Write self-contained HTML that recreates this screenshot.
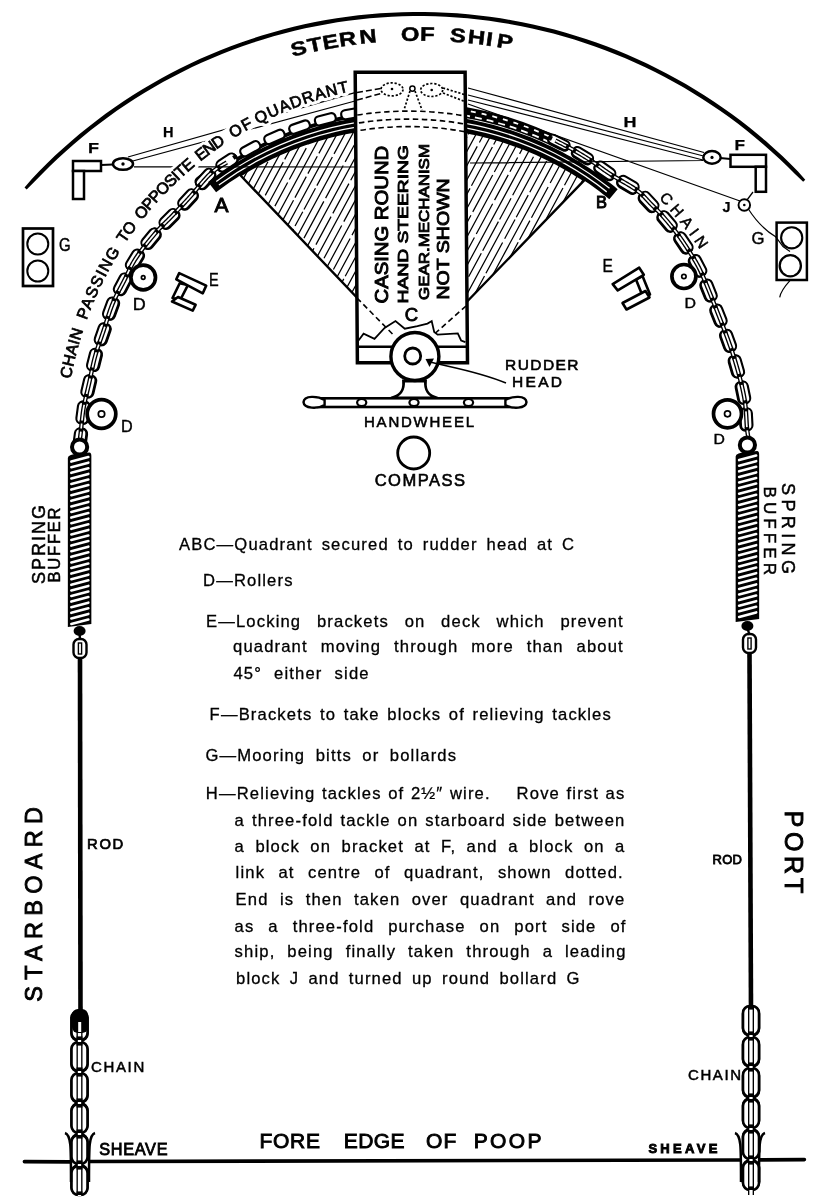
<!DOCTYPE html>
<html><head><meta charset="utf-8"><style>html,body{margin:0;padding:0;background:#fff;}svg{display:block;filter:grayscale(1);}</style></head>
<body><svg width="832" height="1200" viewBox="0 0 832 1200"><defs>
<pattern id="hatch" patternUnits="userSpaceOnUse" width="13.6" height="40" patternTransform="rotate(28.4)">
<line x1="1" y1="0" x2="1" y2="40" stroke="#000" stroke-width="1.3"/><line x1="7.8" y1="0" x2="7.8" y2="40" stroke="#000" stroke-width="1.3" stroke-dasharray="16,4"/></pattern>
<clipPath id="boxclip"><rect x="357" y="74" width="109" height="287"/></clipPath>
</defs><rect width="832" height="1200" fill="#fff"/><path d="M24.52,187.57 L31.59,179.16 L39.13,171.18 L46.9,163.43 L54.82,155.83 L62.91,148.41 L71.14,141.15 L79.52,134.06 L88.05,127.15 L96.72,120.41 L105.52,113.86 L114.46,107.49 L123.53,101.3 L132.73,95.3 L142.04,89.5 L151.48,83.89 L161.03,78.47 L170.68,73.25 L180.45,68.24 L190.31,63.42 L200.27,58.81 L210.33,54.41 L220.47,50.21 L230.7,46.23 L241.01,42.46 L251.4,38.9 L261.85,35.56 L272.37,32.43 L282.96,29.52 L293.6,26.83 L304.3,24.36 L315.04,22.12 L325.83,20.09 L336.66,18.29 L347.52,16.71 L358.42,15.36 L369.34,14.23 L380.28,13.33 L391.23,12.65 L402.2,12.2 L413.18,11.98 L424.15,11.98 L435.13,12.21 L446.1,12.67 L457.05,13.35 L467.99,14.26 L478.91,15.39 L489.8,16.75 L500.66,18.34 L511.49,20.15 L522.28,22.18 L533.02,24.43 L543.72,26.91 L554.36,29.61 L564.94,32.52 L575.46,35.65 L585.92,39 L596.3,42.57 L606.6,46.35 L616.83,50.34 L626.97,54.54 L637.03,58.95 L646.98,63.56 L656.85,68.38 L666.61,73.41 L676.26,78.63 L685.81,84.05 L695.24,89.67 L704.55,95.48 L713.74,101.48 L722.81,107.68 L731.74,114.05 L740.54,120.61 L749.21,127.35 L757.73,134.27 L766.11,141.36 L774.34,148.63 L782.42,156.06 L790.34,163.66 L798.03,171.49 L805.27,179.75 L803.16,181.73 L795.25,174.22 L787.47,166.59 L779.61,159.05 L771.59,151.67 L763.43,144.46 L755.11,137.43 L746.66,130.56 L738.06,123.87 L729.32,117.36 L720.46,111.04 L711.46,104.89 L702.34,98.94 L693.1,93.17 L683.75,87.6 L674.27,82.22 L664.69,77.03 L655.01,72.05 L645.22,67.26 L635.34,62.68 L625.36,58.31 L615.3,54.14 L605.15,50.18 L594.93,46.43 L584.62,42.89 L574.25,39.57 L563.81,36.46 L553.31,33.57 L542.75,30.89 L532.14,28.44 L521.48,26.2 L510.77,24.18 L500.03,22.39 L489.25,20.82 L478.44,19.47 L467.61,18.34 L456.75,17.44 L445.88,16.76 L435,16.31 L424.11,16.08 L413.22,16.08 L402.33,16.3 L391.44,16.74 L380.57,17.42 L369.72,18.31 L358.88,19.43 L348.07,20.77 L337.29,22.34 L326.55,24.13 L315.84,26.14 L305.18,28.37 L294.57,30.82 L284,33.49 L273.5,36.37 L263.06,39.47 L252.69,42.79 L242.38,46.32 L232.15,50.07 L222,54.02 L211.94,58.18 L201.96,62.55 L192.07,67.12 L182.28,71.9 L172.59,76.88 L163.01,82.06 L153.54,87.43 L144.18,93 L134.93,98.76 L125.81,104.71 L116.81,110.85 L107.94,117.17 L99.2,123.68 L90.6,130.36 L82.14,137.22 L73.82,144.25 L65.65,151.45 L57.63,158.82 L49.76,166.36 L42.05,174.05 L34.43,181.84 L26.67,189.51 Z" fill="#000"/>
<text font-family="Liberation Sans, sans-serif" font-size="19.5" font-weight="bold" stroke="#000" stroke-width="0.5" text-anchor="middle" transform="translate(300.1,54.84) rotate(-13.62) scale(1.22,1)">S</text>
<text font-family="Liberation Sans, sans-serif" font-size="19.5" font-weight="bold" stroke="#000" stroke-width="0.5" text-anchor="middle" transform="translate(316.1,51.24) rotate(-11.75) scale(1.22,1)">T</text>
<text font-family="Liberation Sans, sans-serif" font-size="19.5" font-weight="bold" stroke="#000" stroke-width="0.5" text-anchor="middle" transform="translate(331.6,48.27) rotate(-9.95) scale(1.22,1)">E</text>
<text font-family="Liberation Sans, sans-serif" font-size="19.5" font-weight="bold" stroke="#000" stroke-width="0.5" text-anchor="middle" transform="translate(348.5,45.6) rotate(-8) scale(1.22,1)">R</text>
<text font-family="Liberation Sans, sans-serif" font-size="19.5" font-weight="bold" stroke="#000" stroke-width="0.5" text-anchor="middle" transform="translate(368.6,43.18) rotate(-5.7) scale(1.22,1)">N</text>
<text font-family="Liberation Sans, sans-serif" font-size="19.5" font-weight="bold" stroke="#000" stroke-width="0.5" text-anchor="middle" transform="translate(410.3,40.77) rotate(-0.93) scale(1.22,1)">O</text>
<text font-family="Liberation Sans, sans-serif" font-size="19.5" font-weight="bold" stroke="#000" stroke-width="0.5" text-anchor="middle" transform="translate(427.2,40.78) rotate(0.99) scale(1.22,1)">F</text>
<text font-family="Liberation Sans, sans-serif" font-size="19.5" font-weight="bold" stroke="#000" stroke-width="0.5" text-anchor="middle" transform="translate(457.3,42.2) rotate(4.43) scale(1.22,1)">S</text>
<text font-family="Liberation Sans, sans-serif" font-size="19.5" font-weight="bold" stroke="#000" stroke-width="0.5" text-anchor="middle" transform="translate(475.9,43.99) rotate(6.56) scale(1.22,1)">H</text>
<text font-family="Liberation Sans, sans-serif" font-size="19.5" font-weight="bold" stroke="#000" stroke-width="0.5" text-anchor="middle" transform="translate(488.6,45.61) rotate(8.01) scale(1.22,1)">I</text>
<text font-family="Liberation Sans, sans-serif" font-size="19.5" font-weight="bold" stroke="#000" stroke-width="0.5" text-anchor="middle" transform="translate(503.9,48.01) rotate(9.78) scale(1.22,1)">P</text>
<clipPath id="wedgeclip"><path d="M413.5,357.0 L240.41,175.28 L244.28,172.88 L248.18,170.54 L252.11,168.26 L256.07,166.04 L260.07,163.87 L264.09,161.76 L268.15,159.71 L272.23,157.72 L276.35,155.79 L280.49,153.91 L284.65,152.1 L288.85,150.34 L293.07,148.65 L297.31,147.02 L301.57,145.45 L305.86,143.94 L310.17,142.49 L314.5,141.11 L318.85,139.79 L323.21,138.53 L327.6,137.33 L332,136.2 L336.42,135.13 L340.85,134.12 L345.3,133.18 L349.76,132.3 L354.23,131.49 L358.71,130.74 L363.2,130.06 L367.71,129.44 L372.22,128.88 L376.74,128.39 L381.26,127.97 L385.79,127.61 L390.33,127.32 L394.87,127.09 L399.41,126.93 L403.95,126.83 L408.5,126.8 L413.04,126.83 L417.59,126.93 L422.13,127.1 L426.67,127.33 L431.2,127.63 L435.74,127.99 L440.26,128.41 L444.78,128.91 L449.29,129.46 L453.79,130.08 L458.29,130.77 L462.77,131.52 L467.24,132.34 L471.7,133.22 L476.14,134.16 L480.58,135.17 L484.99,136.24 L489.39,137.38 L493.78,138.58 L498.14,139.84 L502.49,141.17 L506.82,142.55 L511.13,144 L515.41,145.52 L519.68,147.09 L523.92,148.72 L528.14,150.42 L532.33,152.18 L536.49,153.99 L540.63,155.87 L544.75,157.8 L548.83,159.8 L552.88,161.85 L556.91,163.96 L560.9,166.13 L564.87,168.36 L568.79,170.65 L572.69,172.99 L576.55,175.38 L580.38,177.83 L584.17,180.34 Z"/></clipPath>
<g clip-path="url(#wedgeclip)"><path d="M-16.74,187.89 L125.95,-76 M-10.76,191.13 L1,169.39 M2.33,166.92 L18.75,136.55 M20.01,134.22 L34.79,106.89 M36.33,104.04 L44.29,89.32 M45.96,86.23 L53.63,72.04 M55.23,69.08 L63.36,54.04 M64.64,51.68 L77.83,27.29 M79.81,23.63 L88.71,7.17 M90.11,4.58 L106.19,-25.17 M108.29,-29.04 L123.65,-57.46 M125.22,-60.36 L146.28,-99.32 M-4.78,194.36 L137.91,-69.53 M1.2,197.6 L20.59,161.75 M22.05,159.04 L31.25,142.04 M32.55,139.63 L44.08,118.29 M46.05,114.66 L55.76,96.7 M57.5,93.47 L73.75,63.42 M75.3,60.56 L90.25,32.91 M91.5,30.6 L99.48,15.84 M100.87,13.28 L117.71,-17.87 M119.3,-20.83 L130.92,-42.31 M132.67,-45.54 L146.27,-70.69 M7.19,200.83 L149.87,-63.06 M13.17,204.06 L31.64,169.91 M33.49,166.48 L44.11,146.84 M45.84,143.63 L60.47,116.58 M62.49,112.84 L80.04,80.39 M81.5,77.69 L102.62,38.63 M103.92,36.22 L117.02,11.99 M118.93,8.46 L128.23,-8.75 M129.89,-11.8 L137.58,-26.03 M139.41,-29.41 L157.45,-62.78 M19.15,207.3 L161.84,-56.6 M25.13,210.53 L44.76,174.23 M46.24,171.48 L63.3,139.94 M65.05,136.7 L80.46,108.2 M82.09,105.2 L101.21,69.83 M103.29,65.97 L117.19,40.27 M119.01,36.9 L127.01,22.1 M128.87,18.67 L145.24,-11.6 M147.37,-15.55 L166.23,-50.43 M167.69,-53.13 L180.33,-76.51 M31.11,213.77 L173.8,-50.13 M37.09,217 L44.55,203.21 M46.18,200.2 L55.71,182.57 M57.01,180.16 L64.99,165.41 M66.91,161.86 L75.89,145.26 M77.31,142.62 L90.02,119.11 M92.04,115.38 L100.33,100.06 M101.94,97.07 L116.92,69.37 M118.95,65.62 L137.77,30.8 M139.78,27.08 L150.89,6.54 M152.47,3.61 L164.73,-19.05 M166.76,-22.8 L187.56,-61.27 M43.08,220.24 L185.76,-43.66 M49.06,223.47 L58.71,205.62 M60.12,203.02 L70.58,183.66 M72.23,180.61 L87.77,151.87 M89.21,149.21 L96.4,135.91 M97.99,132.97 L110.39,110.03 M112.12,106.84 L132.85,68.49 M134.7,65.08 L149.19,38.28 M150.97,34.99 L167.75,3.95 M168.99,1.66 L188.96,-35.27 M190.89,-38.85 L210.5,-75.12 M55.04,226.7 L197.73,-37.19 M61.02,229.94 L73.75,206.39 M75.32,203.49 L83.93,187.56 M85.73,184.25 L93.75,169.41 M95,167.09 L105.12,148.39 M106.46,145.9 L118.45,123.73 M119.68,121.44 L126.82,108.24 M128.16,105.78 L136.74,89.9 M138.27,87.06 L145.77,73.2 M147.79,69.46 L163.69,40.06 M165.02,37.6 L175.75,17.75 M177.27,14.94 L189.6,-7.87 M190.91,-10.28 L210.16,-45.88 M67,233.17 L209.69,-30.72 M72.98,236.41 L86.77,210.91 M88.42,207.86 L96.78,192.4 M98.06,190.02 L110.09,167.79 M111.53,165.12 L130.49,130.05 M131.83,127.57 L139.29,113.77 M141.39,109.9 L156.06,82.76 M157.39,80.3 L172.27,52.77 M173.49,50.53 L188.16,23.4 M190.28,19.48 L209.73,-16.5 M211.58,-19.93 L222.44,-40.01 M78.97,239.64 L221.65,-24.25 M84.95,242.87 L94.46,225.27 M96.39,221.71 L111.12,194.47 M113.05,190.9 L124.89,169 M126.29,166.41 L145.01,131.8 M147.13,127.87 L166.43,92.17 M168.39,88.56 L187.2,53.77 M189.09,50.26 L199.46,31.09 M201.14,27.98 L213.35,5.4 M214.57,3.15 L222.1,-10.78 M223.55,-13.47 L234.39,-33.51 M90.93,246.11 L233.62,-17.79 M96.91,249.34 L117.69,210.91 M119.31,207.92 L139.81,170 M141.94,166.06 L162.7,127.66 M164.24,124.82 L174.52,105.81 M175.92,103.21 L185.86,84.83 M187.25,82.27 L203.29,52.61 M205.33,48.82 L224.46,13.45 M226.1,10.41 L242.55,-20.02 M102.89,252.58 L245.58,-11.32 M108.87,255.81 L117.22,240.38 M119.04,237.02 L139.15,199.82 M141.08,196.24 L158.92,163.25 M160.57,160.21 L170.25,142.3 M172.19,138.72 L184.07,116.75 M186.02,113.14 L207.02,74.3 M208.58,71.41 L221.44,47.62 M223.53,43.75 L241.01,11.43 M242.36,8.93 L251.31,-7.61 M114.86,259.05 L257.54,-4.85 M120.84,262.28 L140.88,225.21 M142.84,221.59 L152.06,204.54 M154.03,200.88 L175.16,161.82 M176.97,158.46 L189.1,136.02 M190.82,132.86 L199.82,116.21 M201.02,113.98 L222.01,75.17 M223.82,71.82 L238.46,44.73 M240.54,40.89 L253.87,16.25 M255.88,12.52 L274.81,-22.48 M126.82,265.51 L269.51,1.62 M132.8,268.75 L143.53,248.91 M145,246.19 L155.56,226.65 M157.31,223.42 L168.14,203.38 M169.73,200.44 L178.74,183.79 M180.79,179.99 L192.97,157.46 M194.6,154.46 L210.06,125.87 M212.11,122.08 L225.24,97.78 M227.3,93.97 L241.6,67.53 M243.29,64.4 L257.9,37.39 M259.1,35.16 L272.52,10.35 M273.88,7.83 L281.07,-5.47 M138.78,271.98 L281.47,8.09 M144.76,275.22 L154.36,257.47 M156,254.44 L173.48,222.11 M175.2,218.93 L186.98,197.13 M188.66,194.02 L203.72,166.17 M205.66,162.59 L214.31,146.6 M216.03,143.41 L226.71,123.66 M228.16,120.97 L246.32,87.4 M247.99,84.31 L263.14,56.29 M265.05,52.75 L285.2,15.48 M286.81,12.5 L302.69,-16.86 M150.74,278.45 L293.43,14.56 M156.73,281.69 L171.17,254.98 M173.02,251.56 L186.61,226.43 M188.3,223.29 L202.26,197.48 M204.34,193.62 L221.45,161.98 M223.48,158.23 L244.05,120.18 M245.49,117.52 L260.61,89.56 M262.69,85.7 L281.81,50.34 M283.13,47.9 L292,31.5 M293.61,28.52 L301.78,13.41 M162.71,284.92 L305.4,21.03 M168.69,288.15 L176.87,273.03 M178.69,269.65 L197.01,235.77 M199.06,231.99 L208.39,214.72 M210.26,211.26 L226.82,180.65 M228.14,178.19 L247.88,141.7 M249.99,137.8 L260.25,118.81 M262.35,114.94 L275.17,91.23 M276.82,88.18 L298.08,48.86 M300.06,45.2 L309.5,27.74 M311.09,24.78 L325.59,-2.02 M174.67,291.39 L317.36,27.49 M180.65,294.62 L190.58,276.26 M192.07,273.5 L209.51,241.25 M210.72,239.02 L225.76,211.2 M227.37,208.23 L234.76,194.56 M236.26,191.77 L252.3,162.11 M253.98,159.01 L262.03,144.12 M264.15,140.19 L282.54,106.19 M284.65,102.28 L293.28,86.32 M294.72,83.66 L302.42,69.42 M304.35,65.85 L315.34,45.52 M316.66,43.09 L329.82,18.75 M186.63,297.86 L329.32,33.96 M192.62,301.09 L211.44,266.28 M212.87,263.63 L222.14,246.49 M224.2,242.68 L239.48,214.42 M241.33,210.99 L249.74,195.44 M250.99,193.14 L267.94,161.78 M269.53,158.83 L277.7,143.73 M279.78,139.88 L295.97,109.94 M297.92,106.33 L306.25,90.93 M308.25,87.22 L316.34,72.27 M318.35,68.55 L331.96,43.38 M333.47,40.59 L348.5,12.8 M198.6,304.33 L341.28,40.43 M204.58,307.56 L215.54,287.3 M216.85,284.87 L231.5,257.77 M232.92,255.15 L241.61,239.07 M242.96,236.59 L250.81,222.06 M252.19,219.51 L263.78,198.08 M265.25,195.34 L283.23,162.11 M284.69,159.4 L298.96,133 M300.32,130.49 L312.4,108.14 M313.61,105.91 L324.32,86.11 M325.52,83.88 L343.12,51.34 M344.83,48.17 L354.67,29.98 M210.56,310.79 L353.25,46.9 M216.54,314.03 L237.01,276.17 M238.3,273.78 L257.12,238.98 M258.72,236.02 L272.92,209.76 M274.9,206.09 L287.65,182.52 M289.32,179.43 L306.26,148.09 M308.39,144.16 L320.41,121.92 M322.39,118.26 L339.61,86.42 M341.41,83.1 L354.31,59.22 M355.83,56.41 L363.75,41.78 M222.52,317.26 L365.21,53.37 M228.51,320.5 L236.65,305.44 M238.54,301.93 L249.32,281.99 M250.67,279.51 L259.01,264.08 M261,260.4 L280.55,224.24 M282.38,220.86 L293.54,200.22 M294.96,197.6 L306.27,176.67 M307.9,173.66 L317.28,156.31 M318.89,153.33 L329.79,133.18 M331.89,129.29 L352.9,90.43 M354.61,87.27 L365.23,67.62 M367.34,63.73 L378.89,42.36 M234.49,323.73 L377.17,59.84 M240.47,326.97 L247.62,313.74 M249.17,310.87 L263.08,285.15 M264.74,282.07 L274.75,263.57 M276.42,260.48 L283.62,247.16 M285.06,244.49 L293.48,228.93 M295.05,226.03 L302.77,211.73 M303.99,209.49 L315.46,188.27 M316.87,185.66 L332.36,157.01 M334.05,153.88 L351.9,120.88 M353.71,117.53 L371.06,85.44 M373.09,81.69 L385.78,58.22 M246.45,330.2 L389.14,66.3 M252.43,333.43 L273.62,294.25 M274.95,291.79 L292.42,259.49 M294.22,256.15 L301.98,241.8 M303.96,238.14 L323.82,201.4 M325.61,198.1 L343.21,165.54 M345.17,161.91 L354.3,145.04 M355.98,141.92 L370.31,115.42 M372.3,111.75 L390.91,77.32 M392.89,73.66 L408.36,45.06 M258.41,336.67 L401.1,72.77 M264.4,339.9 L281.27,308.69 M283.12,305.27 L293.54,286 M294.76,283.75 L303.79,267.04 M305.32,264.21 L313.95,248.25 M315.94,244.58 L331.04,216.64 M332.83,213.34 L348.9,183.62 M350.73,180.22 L364.85,154.12 M366.04,151.91 L384.56,117.66 M386.46,114.15 L400.77,87.68 M402.47,84.54 L419.01,53.95 M270.38,343.14 L413.06,79.24 M276.36,346.37 L294.01,313.73 M295.44,311.09 L303.63,295.93 M305.07,293.26 L322.61,260.82 M324,258.26 L341.69,225.54 M343.81,221.63 L357.99,195.4 M359.54,192.53 L373.51,166.69 M375.35,163.29 L393.43,129.85 M395.2,126.57 L411.51,96.41 M412.77,94.08 L422.01,76.99 M282.34,349.6 L425.03,85.71 M288.32,352.84 L306.06,320.03 M307.54,317.3 L322.78,289.12 M323.98,286.9 L331.98,272.1 M333.42,269.43 L350.14,238.5 M351.99,235.08 L368.77,204.06 M370.23,201.35 L384.74,174.52 M386.37,171.51 L400.16,146 M401.46,143.6 L421.34,106.82 M422.72,104.27 L443.81,65.26 M294.3,356.07 L436.99,92.18 M300.29,359.31 L307.67,345.65 M309.29,342.64 L328.13,307.81 M330.24,303.91 L343.79,278.86 M345.23,276.18 L355.36,257.45 M357.45,253.59 L367.59,234.83 M369.33,231.61 L378.49,214.68 M380.17,211.55 L400.9,173.22 M402.22,170.79 L421.06,135.95 M422.73,132.85 L442.52,96.25 M306.27,362.54 L448.95,98.65 M312.25,365.78 L322.68,346.48 M324.73,342.7 L338.8,316.67 M340.01,314.43 L347.2,301.14 M348.85,298.08 L362.42,272.99 M363.9,270.26 L373.04,253.35 M374.55,250.54 L386.2,229.01 M388.19,225.33 L395.35,212.09 M397.25,208.57 L416.36,173.23 M417.66,170.82 L438.01,133.18 M439.88,129.73 L459.88,92.74 M318.23,369.01 L460.92,105.12 M324.21,372.24 L336.66,349.23 M338.22,346.34 L359.61,306.78 M361.36,303.55 L373.64,280.84 M375.23,277.88 L386.29,257.43 M387.53,255.14 L396.11,239.26 M398.1,235.6 L409.31,214.86 M411.39,211.02 L422.08,191.25 M423.52,188.58 L437.94,161.9 M439.31,159.37 L451.78,136.32 M453.87,132.44 L473.63,95.91 M330.19,375.48 L472.88,111.58 M336.17,378.71 L352.31,348.87 M354.37,345.06 L374.93,307.04 M376.64,303.88 L394.04,271.69 M395.28,269.41 L412.86,236.89 M414.48,233.9 L432.35,200.84 M434.15,197.5 L445.37,176.76 M446.61,174.47 L466.97,136.82 M468.28,134.4 L482.15,108.74 M342.16,381.95 L484.84,118.05 M348.14,385.18 L359.52,364.13 M361.41,360.63 L382.48,321.67 M383.91,319.01 L400.41,288.51 M401.88,285.78 L416.97,257.88 M418.54,254.98 L428.06,237.37 M429.4,234.89 L439.5,216.21 M441.55,212.42 L455.78,186.1 M457.18,183.52 L477.24,146.41 M479.38,142.46 L492.93,117.39 M354.12,388.42 L496.81,124.52 M360.1,391.65 L369.98,373.38 M371.26,371.02 L383.27,348.8 M384.55,346.44 L395.09,326.94 M396.53,324.28 L411.79,296.06 M413.82,292.3 L431.65,259.32 M433.23,256.39 L446.27,232.28 M447.96,229.15 L460.47,206.01 M461.98,203.22 L470,188.39 M471.46,185.7 L492.4,146.97 M493.71,144.55 L508.03,118.07 M366.08,394.88 L508.77,130.99 M372.06,398.12 L391.51,362.15 M392.91,359.57 L403.91,339.23 M405.33,336.59 L418.17,312.85 M419.78,309.86 L440.53,271.49 M442.53,267.8 L462.12,231.57 M463.33,229.34 L470.92,215.29 M472.78,211.84 L492.7,175.01 M494.34,171.98 L509.85,143.29 M511.04,141.09 L523.76,117.56 M378.05,401.35 L520.73,137.46 M384.03,404.59 L402.94,369.61 M404.94,365.9 L425.95,327.05 M427.38,324.41 L436.07,308.34 M437.4,305.87 L451.99,278.89 M453.83,275.49 L474.4,237.45 M476.27,233.98 L492.64,203.7 M494.56,200.16 L508.22,174.9 M509.93,171.73 L517.63,157.49 M519.57,153.91 L530.02,134.58 M390.01,407.82 L532.7,143.93 M395.99,411.06 L412.34,380.83 M413.81,378.09 L422.77,361.52 M424.2,358.88 L440.42,328.89 M442.27,325.46 L451,309.31 M452.26,306.99 L466.88,279.95 M468.62,276.73 L481.29,253.29 M482.69,250.7 L498.41,221.64 M499.6,219.43 L511.04,198.27 M512.67,195.27 L533.49,156.76 M535.29,153.43 L555.03,116.91 M401.97,414.29 L544.66,150.4 M407.95,417.52 L418.44,398.13 M419.86,395.5 L440.7,356.96 M442.56,353.52 L454.08,332.21 M455.29,329.97 L469.54,303.63 M471.37,300.24 L484.5,275.96 M485.93,273.31 L502.59,242.51 M504.66,238.68 L515.03,219.5 M516.25,217.24 L528.21,195.12 M529.79,192.19 L546.67,160.98 M548.05,158.43 L566.55,124.2 M413.94,420.76 L556.62,156.86 M419.92,423.99 L434.26,397.47 M435.64,394.91 L456.61,356.13 M458.1,353.38 L476.93,318.54 M478.34,315.94 L488.64,296.9 M490.55,293.36 L501.89,272.39 M503.99,268.51 L518.19,242.23 M519.56,239.7 L529.88,220.62 M531.47,217.68 L548.1,186.93 M550.19,183.06 L559.41,166.01 M560.97,163.12 L571.15,144.3 M425.9,427.23 L568.59,163.33 M431.88,430.46 L441.04,413.52 M442.28,411.23 L450.27,396.45 M451.83,393.56 L471.78,356.66 M473.81,352.91 L491.4,320.38 M493.54,316.42 L513.97,278.64 M515.47,275.87 L525.25,257.78 M527.33,253.93 L545.11,221.04 M546.33,218.78 L562.95,188.06 M564.5,185.19 L576.97,162.13 M437.86,433.7 L580.55,169.8 M443.84,436.93 L453.39,419.27 M454.59,417.06 L465.71,396.49 M467.24,393.67 L488,355.26 M489.31,352.84 L510.2,314.2 M511.59,311.64 L523.81,289.03 M525.78,285.38 L544.65,250.5 M546.25,247.54 L554.08,233.04 M555.72,230.01 L568.18,206.98 M570.24,203.16 L580.13,184.88 M581.66,182.04 L601.6,145.17 M449.83,440.16 L592.51,176.27 M455.81,443.4 L468.8,419.36 M470.76,415.74 L488.84,382.31 M490.07,380.04 L497.7,365.92 M498.95,363.61 L519.21,326.14 M520.64,323.49 L538.44,290.57 M540.48,286.79 L552.46,264.65 M553.9,261.97 L574.7,223.5 M576.48,220.22 L587.35,200.11 M589.23,196.65 L600.88,175.1 M461.79,446.63 L604.48,182.74 M467.77,449.87 L474.96,436.57 M476.87,433.04 L497.08,395.66 M498.87,392.35 L519.46,354.26 M520.67,352.02 L531.15,332.65 M532.79,329.62 L553.57,291.18 M555.67,287.3 L568.32,263.9 M569.75,261.26 L583.02,236.72 M584.67,233.66 L605.05,195.97 M606.42,193.45 L625,159.07 M473.75,453.1 L616.44,189.21 M479.73,456.33 L498.61,421.43 M500.53,417.87 L516.33,388.65 M517.83,385.87 L529.53,364.25 M531.06,361.41 L549.35,327.57 M550.62,325.23 L560.57,306.83 M562.47,303.31 L573.14,283.59 M574.39,281.28 L582.01,267.19 M583.72,264.02 L595.5,242.22 M597.62,238.3 L617.36,201.79 M619.49,197.85 L630.41,177.67 M485.72,459.57 L628.4,195.67 M491.7,462.8 L500.21,447.06 M501.87,443.99 L519.13,412.06 M520.75,409.08 L531.22,389.7 M532.81,386.77 L548.79,357.21 M550.62,353.82 L568.43,320.89 M570.43,317.2 L587.04,286.47 M588.34,284.06 L607.48,248.67 M608.95,245.96 L624.17,217.8 M625.71,214.95 L643.38,182.27 M497.68,466.04 L640.37,202.14 M503.66,469.27 L514.32,449.55 M515.75,446.92 L525.07,429.68 M527.1,425.92 L542.49,397.47 M543.98,394.69 L556.77,371.05 M558.9,367.1 L573.28,340.52 M574.69,337.91 L593.36,303.38 M595.17,300.03 L616.44,260.69 M617.73,258.31 L631.64,232.59 M633.6,228.95 L652.73,193.57 M509.64,472.51 L652.33,208.61 M515.62,475.74 L523.33,461.48 M524.8,458.76 L533.64,442.42 M535.01,439.89 L556.02,401.02 M557.77,397.8 L578.17,360.05 M579.72,357.2 L599.21,321.15 M600.83,318.16 L611.67,298.1 M613.6,294.54 L634.23,256.39 M635.52,254 L651.16,225.07 M652.94,221.78 L663.18,202.85 M521.6,478.97 L664.29,215.08 M527.59,482.21 L536.74,465.28 M538.12,462.73 L548.89,442.8 M550.65,439.55 L567.08,409.16 M568.47,406.6 L575.76,393.11 M577.26,390.33 L594.08,359.24 M595.44,356.71 L607.03,335.28 M608.41,332.72 L626.9,298.54 M628.61,295.38 L636.64,280.51 M637.93,278.13 L650.7,254.51 M652.42,251.34 L668.67,221.28 M669.95,218.92 L679.42,201.4 M533.57,485.44 L676.26,221.55 M539.55,488.68 L552.53,464.67 M553.99,461.97 L565.51,440.66 M567.61,436.78 L579.2,415.35 M580.93,412.15 L593.16,389.53 M594.74,386.6 L614.21,350.6 M616.35,346.64 L628.67,323.85 M630.05,321.3 L647.57,288.89 M648.95,286.34 L656.17,272.99 M658.22,269.2 L671.4,244.82 M673.37,241.18 L686.3,217.27 M545.53,491.91 L688.22,228.02 M551.51,495.15 L565.22,469.79 M566.57,467.3 L573.91,453.72 M575.63,450.55 L591.9,420.45 M593.96,416.65 L602.36,401.1 M604.14,397.81 L616.57,374.83 M618.24,371.74 L627.45,354.7 M628.91,352 L643.48,325.05 M645.55,321.22 L654.24,305.16 M655.89,302.1 L674.51,267.66 M676.62,263.76 L686.57,245.36 M687.88,242.94 L708.47,204.86 M557.49,498.38 L700.18,234.49 M563.48,501.61 L577.5,475.68 M578.74,473.39 L599.09,435.75 M600.65,432.87 L620.68,395.81 M622.46,392.52 L641.36,357.57 M642.7,355.09 L661.05,321.16 M662.45,318.57 L675.36,294.7 M677.35,291.01 L696.32,255.93 M697.68,253.41 L707.93,234.46 M569.46,504.85 L712.14,240.95 M575.44,508.08 L589.96,481.22 M591.52,478.35 L600.41,461.91 M601.83,459.27 L619.31,426.95 M621.35,423.17 L629.07,408.89 M630.8,405.7 L648.74,372.52 M649.96,370.25 L669.06,334.94 M670.36,332.53 L686.05,303.52 M687.76,300.35 L703.84,270.61 M705.32,267.87 L718.45,243.59 M581.42,511.32 L724.11,247.42 M587.4,514.55 L600.61,490.12 M602.43,486.76 L615.94,461.78 M617.54,458.81 L625.01,445 M626.79,441.71 L640.91,415.6 M642.32,412.98 L660.35,379.64 M662.28,376.07 L675.95,350.78 M677.31,348.26 L691.2,322.58 M692.49,320.19 L701.46,303.61 M703.06,300.65 L711.5,285.04 M713.11,282.06 L727.52,255.4 M728.75,253.13 L744.97,223.14 M593.38,517.79 L736.07,253.89 M599.37,521.02 L616.97,488.47 M618.89,484.9 L633.33,458.21 M634.57,455.91 L648.89,429.42 M650.44,426.56 L671.14,388.27 M672.46,385.83 L691.83,350.02 M693.96,346.07 L711.54,313.55 M713.51,309.92 L723.4,291.61 M725.53,287.69 L739.68,261.51 M741.78,257.63 L761.98,220.26 M605.35,524.25 L748.03,260.36 M611.33,527.49 L629.71,493.49 M631.79,489.65 L639.86,474.73 M641.38,471.91 L659.3,438.76 M660.64,436.28 L680.57,399.43 M682.02,396.75 L700.79,362.03 M702.12,359.58 L716.42,333.13 M718.48,329.31 L728.59,310.62 M730.03,307.96 L744.38,281.41 M745.88,278.65 L753.54,264.48 M617.31,530.72 L760,266.83 M623.29,533.96 L632.73,516.51 M634.81,512.66 L651.64,481.53 M653.68,477.76 L663.22,460.11 M665.16,456.53 L673.93,440.3 M675.63,437.16 L691.84,407.18 M693.37,404.34 L712.96,368.11 M714.68,364.94 L730.09,336.44 M732.12,332.68 L740.75,316.73 M742.88,312.78 L759,282.97 M760.57,280.08 L779.08,245.83 M629.27,537.19 L771.96,273.3 M635.26,540.43 L656.52,501.09 M658.26,497.88 L670.54,475.18 M672.45,471.63 L685.9,446.76 M687.25,444.25 L705,411.44 M706.23,409.15 L725.07,374.32 M726.5,371.68 L742.75,341.61 M744.88,337.68 L760.37,309.03 M762.19,305.66 L773.79,284.22 M774.98,282.01 L782.59,267.93 M641.24,543.66 L783.92,279.76 M647.22,546.89 L663.14,517.44 M664.74,514.48 L679.19,487.76 M681.23,483.98 L690.25,467.3 M691.66,464.71 L708.11,434.28 M709.32,432.04 L716.49,418.77 M718.02,415.95 L726.67,399.95 M728.2,397.12 L738.53,378.01 M740.28,374.78 L755.82,346.04 M757.2,343.48 L773.24,313.82 M774.88,310.79 L783.94,294.04 M786.02,290.19 L796.63,270.57 M653.2,550.13 L795.89,286.23 M659.18,553.36 L667.68,537.64 M669.48,534.32 L689.05,498.13 M690.98,494.55 L703.85,470.75 M705.29,468.09 L712.59,454.59 M714.39,451.26 L729.55,423.22 M731.07,420.41 L747.42,390.18 M749.03,387.2 L769.53,349.27 M771.42,345.78 L782.1,326.03 M784.15,322.24 L791.91,307.88 M793.61,304.75 L806.53,280.84 M665.16,556.6 L807.85,292.7 M671.14,559.83 L679.11,545.1 M681.04,541.53 L688.35,528.01 M690.07,524.84 L710.63,486.81 M711.95,484.36 L721.93,465.9 M723.7,462.63 L738.07,436.06 M739.87,432.73 L758.61,398.07 M759.96,395.57 L771.51,374.21 M772.99,371.48 L780.81,357.01 M782.85,353.24 L801.15,319.39 M803.02,315.93 L810.25,302.57 M812.24,298.88 L830.01,266.02 M677.13,563.06 L819.81,299.17 M683.11,566.3 L700.83,533.53 M702.45,530.53 L712.8,511.38 M714.09,508.99 L724.54,489.67 M725.77,487.4 L737.69,465.35 M739.59,461.83 L756.65,430.3 M758.64,426.61 L775.93,394.63 M777.37,391.97 L792.41,364.16 M794.01,361.19 L812.39,327.19 M814.08,324.07 L825,303.87 M689.09,569.53 L831.78,305.64 M695.07,572.77 L715.98,534.1 M717.37,531.52 L737.06,495.1 M738.27,492.88 L749.12,472.81 M750.53,470.2 L768.28,437.37 M770.37,433.51 L788.15,400.63 M789.65,397.85 L809.34,361.43 M810.84,358.65 L821.39,339.15 M823.44,335.35 L839.58,305.51" stroke="#000" stroke-width="1.25" fill="none"/></g>
<path d="M413.5,357.0 L240.41,175.28 L244.28,172.88 L248.18,170.54 L252.11,168.26 L256.07,166.04 L260.07,163.87 L264.09,161.76 L268.15,159.71 L272.23,157.72 L276.35,155.79 L280.49,153.91 L284.65,152.1 L288.85,150.34 L293.07,148.65 L297.31,147.02 L301.57,145.45 L305.86,143.94 L310.17,142.49 L314.5,141.11 L318.85,139.79 L323.21,138.53 L327.6,137.33 L332,136.2 L336.42,135.13 L340.85,134.12 L345.3,133.18 L349.76,132.3 L354.23,131.49 L358.71,130.74 L363.2,130.06 L367.71,129.44 L372.22,128.88 L376.74,128.39 L381.26,127.97 L385.79,127.61 L390.33,127.32 L394.87,127.09 L399.41,126.93 L403.95,126.83 L408.5,126.8 L413.04,126.83 L417.59,126.93 L422.13,127.1 L426.67,127.33 L431.2,127.63 L435.74,127.99 L440.26,128.41 L444.78,128.91 L449.29,129.46 L453.79,130.08 L458.29,130.77 L462.77,131.52 L467.24,132.34 L471.7,133.22 L476.14,134.16 L480.58,135.17 L484.99,136.24 L489.39,137.38 L493.78,138.58 L498.14,139.84 L502.49,141.17 L506.82,142.55 L511.13,144 L515.41,145.52 L519.68,147.09 L523.92,148.72 L528.14,150.42 L532.33,152.18 L536.49,153.99 L540.63,155.87 L544.75,157.8 L548.83,159.8 L552.88,161.85 L556.91,163.96 L560.9,166.13 L564.87,168.36 L568.79,170.65 L572.69,172.99 L576.55,175.38 L580.38,177.83 L584.17,180.34 Z" fill="none" stroke="#000" stroke-width="2.4" stroke-linejoin="round"/>
<path d="M353.85,116.13 A330.5,330.5 0 0 0 223.59,168.1" fill="none" stroke="#000" stroke-width="4"/>
<g transform="translate(351.67,113.66) rotate(-9.8)"><rect x="-10.5" y="-4.6" width="21" height="9.2" rx="4" fill="#fff" stroke="#000" stroke-width="2.2"/></g>
<g transform="translate(325.33,119.32) rotate(-14.43)"><rect x="-10.5" y="-4.6" width="21" height="9.2" rx="4" fill="#fff" stroke="#000" stroke-width="2.2"/></g>
<g transform="translate(299.54,127.08) rotate(-19.06)"><rect x="-10.5" y="-4.6" width="21" height="9.2" rx="4" fill="#fff" stroke="#000" stroke-width="2.2"/></g>
<g transform="translate(274.46,136.9) rotate(-23.7)"><rect x="-10.5" y="-4.6" width="21" height="9.2" rx="4" fill="#fff" stroke="#000" stroke-width="2.2"/></g>
<g transform="translate(250.25,148.71) rotate(-28.33)"><rect x="-10.5" y="-4.6" width="21" height="9.2" rx="4" fill="#fff" stroke="#000" stroke-width="2.2"/></g>
<g transform="translate(227.07,162.44) rotate(-32.96)"><rect x="-10.5" y="-4.6" width="21" height="9.2" rx="4" fill="#fff" stroke="#000" stroke-width="2.2"/></g>
<g transform="translate(205.08,177.99) rotate(-37.59)"><rect x="-10.5" y="-4.6" width="21" height="9.2" rx="4" fill="#fff" stroke="#000" stroke-width="2.2"/></g>
<g transform="translate(227.16,162.98) rotate(146.21)"><rect x="-11" y="-5.75" width="22" height="11.5" rx="5" fill="#000" stroke="#000" stroke-width="2.1"/></g>
<g transform="translate(226.76,162.4) rotate(146.21)"><rect x="-11" y="-5.75" width="22" height="11.5" rx="5" fill="#fff" stroke="#000" stroke-width="2.1"/></g>
<g transform="translate(205.89,179.3) rotate(131.91)"><rect x="-11" y="-5.75" width="22" height="11.5" rx="5" fill="#000" stroke="#000" stroke-width="2.1"/></g>
<g transform="translate(205.45,178.75) rotate(131.91)"><rect x="-11" y="-5.75" width="22" height="11.5" rx="5" fill="#fff" stroke="#000" stroke-width="2.1"/></g>
<g transform="translate(188.36,199.75) rotate(132.39)"><rect x="-11" y="-5.75" width="22" height="11.5" rx="5" fill="#000" stroke="#000" stroke-width="2.1"/></g>
<g transform="translate(187.87,199.24) rotate(132.39)"><rect x="-11" y="-5.75" width="22" height="11.5" rx="5" fill="#fff" stroke="#000" stroke-width="2.1"/></g>
<g transform="translate(169.78,219.26) rotate(134.95)"><rect x="-11" y="-5.75" width="22" height="11.5" rx="5" fill="#000" stroke="#000" stroke-width="2.1"/></g>
<g transform="translate(169.26,218.8) rotate(134.95)"><rect x="-11" y="-5.75" width="22" height="11.5" rx="5" fill="#fff" stroke="#000" stroke-width="2.1"/></g>
<g transform="translate(151.4,238.94) rotate(129.73)"><rect x="-11" y="-5.75" width="22" height="11.5" rx="5" fill="#000" stroke="#000" stroke-width="2.1"/></g>
<g transform="translate(150.84,238.52) rotate(129.73)"><rect x="-11" y="-5.75" width="22" height="11.5" rx="5" fill="#fff" stroke="#000" stroke-width="2.1"/></g>
<g transform="translate(135.26,260.48) rotate(121.37)"><rect x="-11" y="-5.75" width="22" height="11.5" rx="5" fill="#000" stroke="#000" stroke-width="2.1"/></g>
<g transform="translate(134.66,260.11) rotate(121.37)"><rect x="-11" y="-5.75" width="22" height="11.5" rx="5" fill="#fff" stroke="#000" stroke-width="2.1"/></g>
<g transform="translate(122.99,284.46) rotate(117.76)"><rect x="-11" y="-5.75" width="22" height="11.5" rx="5" fill="#000" stroke="#000" stroke-width="2.1"/></g>
<g transform="translate(122.37,284.13) rotate(117.76)"><rect x="-11" y="-5.75" width="22" height="11.5" rx="5" fill="#fff" stroke="#000" stroke-width="2.1"/></g>
<g transform="translate(111.41,308.76) rotate(110.12)"><rect x="-11" y="-5.75" width="22" height="11.5" rx="5" fill="#000" stroke="#000" stroke-width="2.1"/></g>
<g transform="translate(110.77,308.48) rotate(110.12)"><rect x="-11" y="-5.75" width="22" height="11.5" rx="5" fill="#fff" stroke="#000" stroke-width="2.1"/></g>
<g transform="translate(103.06,334.37) rotate(109.04)"><rect x="-11" y="-5.75" width="22" height="11.5" rx="5" fill="#000" stroke="#000" stroke-width="2.1"/></g>
<g transform="translate(102.39,334.15) rotate(109.04)"><rect x="-11" y="-5.75" width="22" height="11.5" rx="5" fill="#fff" stroke="#000" stroke-width="2.1"/></g>
<g transform="translate(94.87,360.02) rotate(104.08)"><rect x="-11" y="-5.75" width="22" height="11.5" rx="5" fill="#000" stroke="#000" stroke-width="2.1"/></g>
<g transform="translate(94.19,359.86) rotate(104.08)"><rect x="-11" y="-5.75" width="22" height="11.5" rx="5" fill="#fff" stroke="#000" stroke-width="2.1"/></g>
<g transform="translate(89.12,386.34) rotate(103.25)"><rect x="-11" y="-5.75" width="22" height="11.5" rx="5" fill="#000" stroke="#000" stroke-width="2.1"/></g>
<g transform="translate(88.43,386.24) rotate(103.25)"><rect x="-11" y="-5.75" width="22" height="11.5" rx="5" fill="#fff" stroke="#000" stroke-width="2.1"/></g>
<g transform="translate(83.59,412.7) rotate(97.68)"><rect x="-11" y="-5.75" width="22" height="11.5" rx="5" fill="#000" stroke="#000" stroke-width="2.1"/></g>
<g transform="translate(82.89,412.65) rotate(97.68)"><rect x="-11" y="-5.75" width="22" height="11.5" rx="5" fill="#fff" stroke="#000" stroke-width="2.1"/></g>
<g transform="translate(80.57,439.47) rotate(97.46)"><rect x="-11" y="-5.75" width="22" height="11.5" rx="5" fill="#000" stroke="#000" stroke-width="2.1"/></g>
<g transform="translate(79.87,439.48) rotate(97.46)"><rect x="-11" y="-5.75" width="22" height="11.5" rx="5" fill="#fff" stroke="#000" stroke-width="2.1"/></g>
<path d="M226.76,162.4 L226.31,162.71 L225.79,163.04 L225.2,163.4 L224.56,163.78 L223.86,164.2 L223.11,164.64 L222.31,165.12 L221.48,165.62 L220.61,166.15 L219.71,166.71 L218.78,167.3 L217.83,167.92 L216.87,168.57 L215.89,169.26 L214.9,169.97 L213.92,170.71 L212.93,171.49 L211.95,172.3 L210.98,173.14 L210.03,174.01 L209.41,174.6 L208.78,175.22 L208.14,175.87 L207.49,176.55 L206.83,177.25 L206.17,177.97 L205.49,178.71 L204.81,179.47 L204.12,180.25 L203.42,181.05 L202.72,181.85 L202.01,182.67 L201.31,183.5 L200.6,184.34 L199.89,185.18 L199.17,186.03 L198.46,186.88 L197.75,187.73 L197.04,188.58 L196.34,189.43 L195.64,190.27 L194.94,191.1 L194.25,191.93 L193.56,192.74 L192.88,193.55 L192.21,194.34 L191.55,195.11 L190.89,195.86 L190.25,196.6 L189.62,197.31 L189,198 L188.21,198.87 L187.44,199.71 L186.68,200.54 L185.93,201.36 L185.19,202.16 L184.46,202.94 L183.73,203.72 L183.02,204.48 L182.31,205.23 L181.61,205.98 L180.91,206.71 L180.22,207.44 L179.53,208.16 L178.84,208.87 L178.16,209.59 L177.48,210.3 L176.8,211 L176.12,211.71 L175.44,212.42 L174.76,213.13 L174.07,213.84 L173.39,214.55 L172.7,215.27 L172,216 L171.28,216.75 L170.56,217.49 L169.85,218.21 L169.14,218.92 L168.44,219.61 L167.74,220.3 L167.04,220.99 L166.34,221.67 L165.65,222.35 L164.95,223.03 L164.26,223.72 L163.56,224.41 L162.86,225.11 L162.15,225.81 L161.44,226.53 L160.73,227.27 L160.01,228.02 L159.28,228.79 L158.54,229.58 L157.8,230.4 L157.04,231.24 L156.28,232.1 L155.5,233 L154.91,233.69 L154.31,234.39 L153.7,235.11 L153.08,235.85 L152.44,236.6 L151.8,237.37 L151.15,238.14 L150.5,238.93 L149.83,239.73 L149.17,240.54 L148.5,241.36 L147.83,242.19 L147.15,243.02 L146.48,243.86 L145.8,244.7 L145.13,245.55 L144.46,246.4 L143.8,247.25 L143.14,248.1 L142.49,248.95 L141.84,249.8 L141.2,250.65 L140.57,251.49 L139.95,252.33 L139.35,253.17 L138.75,253.99 L138.17,254.81 L137.6,255.63 L137.05,256.43 L136.52,257.22 L136,258 L135.38,258.96 L134.78,259.91 L134.21,260.85 L133.65,261.79 L133.11,262.73 L132.59,263.66 L132.08,264.59 L131.59,265.51 L131.11,266.43 L130.64,267.34 L130.18,268.26 L129.72,269.17 L129.28,270.08 L128.84,270.99 L128.4,271.9 L127.97,272.8 L127.54,273.71 L127.11,274.62 L126.68,275.52 L126.25,276.43 L125.81,277.34 L125.37,278.25 L124.92,279.17 L124.47,280.08 L124,281 L123.53,281.92 L123.05,282.83 L122.58,283.74 L122.1,284.65 L121.62,285.55 L121.14,286.45 L120.66,287.36 L120.19,288.26 L119.71,289.16 L119.23,290.06 L118.75,290.96 L118.28,291.86 L117.81,292.77 L117.34,293.67 L116.87,294.58 L116.41,295.5 L115.96,296.42 L115.5,297.34 L115.05,298.27 L114.61,299.21 L114.18,300.15 L113.75,301.1 L113.32,302.06 L112.91,303.02 L112.5,304 L112.13,304.91 L111.77,305.83 L111.41,306.76 L111.06,307.69 L110.72,308.63 L110.38,309.58 L110.04,310.53 L109.71,311.48 L109.39,312.44 L109.07,313.41 L108.75,314.38 L108.44,315.35 L108.12,316.32 L107.81,317.3 L107.51,318.28 L107.2,319.26 L106.89,320.24 L106.59,321.22 L106.28,322.2 L105.98,323.18 L105.67,324.16 L105.37,325.14 L105.06,326.12 L104.75,327.09 L104.43,328.07 L104.12,329.04 L103.8,330 L103.48,330.96 L103.15,331.93 L102.82,332.89 L102.49,333.85 L102.16,334.81 L101.83,335.78 L101.49,336.74 L101.16,337.7 L100.82,338.67 L100.49,339.63 L100.15,340.59 L99.82,341.56 L99.48,342.52 L99.15,343.48 L98.82,344.44 L98.5,345.41 L98.18,346.37 L97.86,347.33 L97.54,348.3 L97.23,349.26 L96.92,350.22 L96.62,351.19 L96.32,352.15 L96.03,353.11 L95.75,354.07 L95.47,355.04 L95.2,356 L94.93,357 L94.66,358 L94.4,359 L94.15,360 L93.91,361 L93.67,362 L93.44,363 L93.21,364 L92.99,365 L92.77,366 L92.55,367 L92.34,368 L92.13,369 L91.92,370 L91.71,371 L91.5,372 L91.3,373 L91.09,374 L90.89,375 L90.68,376 L90.47,377 L90.26,378 L90.05,379 L89.84,380 L89.62,381 L89.4,382 L89.17,383 L88.95,384.01 L88.71,385.01 L88.48,386.02 L88.24,387.03 L88,388.04 L87.76,389.05 L87.52,390.07 L87.27,391.08 L87.03,392.09 L86.79,393.1 L86.55,394.11 L86.31,395.12 L86.08,396.13 L85.84,397.14 L85.61,398.15 L85.39,399.15 L85.16,400.15 L84.95,401.14 L84.73,402.14 L84.53,403.13 L84.33,404.11 L84.13,405.09 L83.95,406.07 L83.77,407.04 L83.6,408 L83.42,409.05 L83.26,410.12 L83.09,411.21 L82.94,412.3 L82.79,413.41 L82.65,414.52 L82.51,415.63 L82.38,416.74 L82.25,417.85 L82.13,418.95 L82.01,420.04 L81.9,421.12 L81.79,422.19 L81.69,423.24 L81.59,424.26 L81.49,425.26 L81.39,426.23 L81.3,427.17 L81.21,428.08 L81.13,428.95 L81.04,429.78 L80.96,430.57 L80.88,431.31 L80.8,432 L80.58,433.82 L80.4,435.31 L80.25,436.52 L80.12,437.5 L80.02,438.29 L79.94,438.94 L79.86,439.49 L79.8,440" fill="none" stroke="#000" stroke-width="4.4"/>
<path d="M226.76,162.4 L226.31,162.71 L225.79,163.04 L225.2,163.4 L224.56,163.78 L223.86,164.2 L223.11,164.64 L222.31,165.12 L221.48,165.62 L220.61,166.15 L219.71,166.71 L218.78,167.3 L217.83,167.92 L216.87,168.57 L215.89,169.26 L214.9,169.97 L213.92,170.71 L212.93,171.49 L211.95,172.3 L210.98,173.14 L210.03,174.01 L209.41,174.6 L208.78,175.22 L208.14,175.87 L207.49,176.55 L206.83,177.25 L206.17,177.97 L205.49,178.71 L204.81,179.47 L204.12,180.25 L203.42,181.05 L202.72,181.85 L202.01,182.67 L201.31,183.5 L200.6,184.34 L199.89,185.18 L199.17,186.03 L198.46,186.88 L197.75,187.73 L197.04,188.58 L196.34,189.43 L195.64,190.27 L194.94,191.1 L194.25,191.93 L193.56,192.74 L192.88,193.55 L192.21,194.34 L191.55,195.11 L190.89,195.86 L190.25,196.6 L189.62,197.31 L189,198 L188.21,198.87 L187.44,199.71 L186.68,200.54 L185.93,201.36 L185.19,202.16 L184.46,202.94 L183.73,203.72 L183.02,204.48 L182.31,205.23 L181.61,205.98 L180.91,206.71 L180.22,207.44 L179.53,208.16 L178.84,208.87 L178.16,209.59 L177.48,210.3 L176.8,211 L176.12,211.71 L175.44,212.42 L174.76,213.13 L174.07,213.84 L173.39,214.55 L172.7,215.27 L172,216 L171.28,216.75 L170.56,217.49 L169.85,218.21 L169.14,218.92 L168.44,219.61 L167.74,220.3 L167.04,220.99 L166.34,221.67 L165.65,222.35 L164.95,223.03 L164.26,223.72 L163.56,224.41 L162.86,225.11 L162.15,225.81 L161.44,226.53 L160.73,227.27 L160.01,228.02 L159.28,228.79 L158.54,229.58 L157.8,230.4 L157.04,231.24 L156.28,232.1 L155.5,233 L154.91,233.69 L154.31,234.39 L153.7,235.11 L153.08,235.85 L152.44,236.6 L151.8,237.37 L151.15,238.14 L150.5,238.93 L149.83,239.73 L149.17,240.54 L148.5,241.36 L147.83,242.19 L147.15,243.02 L146.48,243.86 L145.8,244.7 L145.13,245.55 L144.46,246.4 L143.8,247.25 L143.14,248.1 L142.49,248.95 L141.84,249.8 L141.2,250.65 L140.57,251.49 L139.95,252.33 L139.35,253.17 L138.75,253.99 L138.17,254.81 L137.6,255.63 L137.05,256.43 L136.52,257.22 L136,258 L135.38,258.96 L134.78,259.91 L134.21,260.85 L133.65,261.79 L133.11,262.73 L132.59,263.66 L132.08,264.59 L131.59,265.51 L131.11,266.43 L130.64,267.34 L130.18,268.26 L129.72,269.17 L129.28,270.08 L128.84,270.99 L128.4,271.9 L127.97,272.8 L127.54,273.71 L127.11,274.62 L126.68,275.52 L126.25,276.43 L125.81,277.34 L125.37,278.25 L124.92,279.17 L124.47,280.08 L124,281 L123.53,281.92 L123.05,282.83 L122.58,283.74 L122.1,284.65 L121.62,285.55 L121.14,286.45 L120.66,287.36 L120.19,288.26 L119.71,289.16 L119.23,290.06 L118.75,290.96 L118.28,291.86 L117.81,292.77 L117.34,293.67 L116.87,294.58 L116.41,295.5 L115.96,296.42 L115.5,297.34 L115.05,298.27 L114.61,299.21 L114.18,300.15 L113.75,301.1 L113.32,302.06 L112.91,303.02 L112.5,304 L112.13,304.91 L111.77,305.83 L111.41,306.76 L111.06,307.69 L110.72,308.63 L110.38,309.58 L110.04,310.53 L109.71,311.48 L109.39,312.44 L109.07,313.41 L108.75,314.38 L108.44,315.35 L108.12,316.32 L107.81,317.3 L107.51,318.28 L107.2,319.26 L106.89,320.24 L106.59,321.22 L106.28,322.2 L105.98,323.18 L105.67,324.16 L105.37,325.14 L105.06,326.12 L104.75,327.09 L104.43,328.07 L104.12,329.04 L103.8,330 L103.48,330.96 L103.15,331.93 L102.82,332.89 L102.49,333.85 L102.16,334.81 L101.83,335.78 L101.49,336.74 L101.16,337.7 L100.82,338.67 L100.49,339.63 L100.15,340.59 L99.82,341.56 L99.48,342.52 L99.15,343.48 L98.82,344.44 L98.5,345.41 L98.18,346.37 L97.86,347.33 L97.54,348.3 L97.23,349.26 L96.92,350.22 L96.62,351.19 L96.32,352.15 L96.03,353.11 L95.75,354.07 L95.47,355.04 L95.2,356 L94.93,357 L94.66,358 L94.4,359 L94.15,360 L93.91,361 L93.67,362 L93.44,363 L93.21,364 L92.99,365 L92.77,366 L92.55,367 L92.34,368 L92.13,369 L91.92,370 L91.71,371 L91.5,372 L91.3,373 L91.09,374 L90.89,375 L90.68,376 L90.47,377 L90.26,378 L90.05,379 L89.84,380 L89.62,381 L89.4,382 L89.17,383 L88.95,384.01 L88.71,385.01 L88.48,386.02 L88.24,387.03 L88,388.04 L87.76,389.05 L87.52,390.07 L87.27,391.08 L87.03,392.09 L86.79,393.1 L86.55,394.11 L86.31,395.12 L86.08,396.13 L85.84,397.14 L85.61,398.15 L85.39,399.15 L85.16,400.15 L84.95,401.14 L84.73,402.14 L84.53,403.13 L84.33,404.11 L84.13,405.09 L83.95,406.07 L83.77,407.04 L83.6,408 L83.42,409.05 L83.26,410.12 L83.09,411.21 L82.94,412.3 L82.79,413.41 L82.65,414.52 L82.51,415.63 L82.38,416.74 L82.25,417.85 L82.13,418.95 L82.01,420.04 L81.9,421.12 L81.79,422.19 L81.69,423.24 L81.59,424.26 L81.49,425.26 L81.39,426.23 L81.3,427.17 L81.21,428.08 L81.13,428.95 L81.04,429.78 L80.96,430.57 L80.88,431.31 L80.8,432 L80.58,433.82 L80.4,435.31 L80.25,436.52 L80.12,437.5 L80.02,438.29 L79.94,438.94 L79.86,439.49 L79.8,440" fill="none" stroke="#fff" stroke-width="1.7000000000000002"/>
<g transform="translate(226.76,162.4) rotate(146.21)" fill="#000"><rect x="-11" y="-2.2" width="3.1" height="4.4"/><rect x="7.9" y="-2.2" width="3.1" height="4.4"/></g>
<g transform="translate(205.45,178.75) rotate(131.91)" fill="#000"><rect x="-11" y="-2.2" width="3.1" height="4.4"/><rect x="7.9" y="-2.2" width="3.1" height="4.4"/></g>
<g transform="translate(187.87,199.24) rotate(132.39)" fill="#000"><rect x="-11" y="-2.2" width="3.1" height="4.4"/><rect x="7.9" y="-2.2" width="3.1" height="4.4"/></g>
<g transform="translate(169.26,218.8) rotate(134.95)" fill="#000"><rect x="-11" y="-2.2" width="3.1" height="4.4"/><rect x="7.9" y="-2.2" width="3.1" height="4.4"/></g>
<g transform="translate(150.84,238.52) rotate(129.73)" fill="#000"><rect x="-11" y="-2.2" width="3.1" height="4.4"/><rect x="7.9" y="-2.2" width="3.1" height="4.4"/></g>
<g transform="translate(134.66,260.11) rotate(121.37)" fill="#000"><rect x="-11" y="-2.2" width="3.1" height="4.4"/><rect x="7.9" y="-2.2" width="3.1" height="4.4"/></g>
<g transform="translate(122.37,284.13) rotate(117.76)" fill="#000"><rect x="-11" y="-2.2" width="3.1" height="4.4"/><rect x="7.9" y="-2.2" width="3.1" height="4.4"/></g>
<g transform="translate(110.77,308.48) rotate(110.12)" fill="#000"><rect x="-11" y="-2.2" width="3.1" height="4.4"/><rect x="7.9" y="-2.2" width="3.1" height="4.4"/></g>
<g transform="translate(102.39,334.15) rotate(109.04)" fill="#000"><rect x="-11" y="-2.2" width="3.1" height="4.4"/><rect x="7.9" y="-2.2" width="3.1" height="4.4"/></g>
<g transform="translate(94.19,359.86) rotate(104.08)" fill="#000"><rect x="-11" y="-2.2" width="3.1" height="4.4"/><rect x="7.9" y="-2.2" width="3.1" height="4.4"/></g>
<g transform="translate(88.43,386.24) rotate(103.25)" fill="#000"><rect x="-11" y="-2.2" width="3.1" height="4.4"/><rect x="7.9" y="-2.2" width="3.1" height="4.4"/></g>
<g transform="translate(82.89,412.65) rotate(97.68)" fill="#000"><rect x="-11" y="-2.2" width="3.1" height="4.4"/><rect x="7.9" y="-2.2" width="3.1" height="4.4"/></g>
<g transform="translate(79.87,439.48) rotate(97.46)" fill="#000"><rect x="-11" y="-2.2" width="3.1" height="4.4"/><rect x="7.9" y="-2.2" width="3.1" height="4.4"/></g>
<path d="M463.61,112.19 A334.5,334.5 0 0 1 562.85,145.39" fill="none" stroke="#000" stroke-width="11"/>
<path d="M463.11,115.15 A331.5,331.5 0 0 1 558.9,146.73" fill="none" stroke="#fff" stroke-width="1.8" stroke-dasharray="7,5"/>
<path d="M463.94,110.21 A336.5,336.5 0 0 1 561.17,142.28" fill="none" stroke="#fff" stroke-width="1.8" stroke-dasharray="5,6" stroke-dashoffset="4"/>
<g transform="translate(558.74,142.99) rotate(26.67)"><rect x="-11" y="-4.58" width="22" height="9.17" rx="3.99" fill="#000" stroke="#000" stroke-width="2.1"/></g>
<g transform="translate(559.04,142.36) rotate(26.67)"><rect x="-11" y="-4.58" width="22" height="9.17" rx="3.99" fill="#fff" stroke="#000" stroke-width="2.1"/></g>
<g transform="translate(582.3,156.04) rotate(31.13)"><rect x="-11" y="-5.15" width="22" height="10.29" rx="4.47" fill="#000" stroke="#000" stroke-width="2.1"/></g>
<g transform="translate(582.65,155.44) rotate(31.13)"><rect x="-11" y="-5.15" width="22" height="10.29" rx="4.47" fill="#fff" stroke="#000" stroke-width="2.1"/></g>
<g transform="translate(604.59,171.14) rotate(35.07)"><rect x="-11" y="-5.71" width="22" height="11.42" rx="4.96" fill="#000" stroke="#000" stroke-width="2.1"/></g>
<g transform="translate(605,170.57) rotate(35.07)"><rect x="-11" y="-5.71" width="22" height="11.42" rx="4.96" fill="#fff" stroke="#000" stroke-width="2.1"/></g>
<g transform="translate(627.61,185.12) rotate(30.57)"><rect x="-11" y="-5.75" width="22" height="11.5" rx="5" fill="#000" stroke="#000" stroke-width="2.1"/></g>
<g transform="translate(628.06,184.58) rotate(30.57)"><rect x="-11" y="-5.75" width="22" height="11.5" rx="5" fill="#fff" stroke="#000" stroke-width="2.1"/></g>
<g transform="translate(648.27,202.18) rotate(47.05)"><rect x="-11" y="-5.75" width="22" height="11.5" rx="5" fill="#000" stroke="#000" stroke-width="2.1"/></g>
<g transform="translate(648.77,201.68) rotate(47.05)"><rect x="-11" y="-5.75" width="22" height="11.5" rx="5" fill="#fff" stroke="#000" stroke-width="2.1"/></g>
<g transform="translate(666.75,221.76) rotate(49.81)"><rect x="-11" y="-5.75" width="22" height="11.5" rx="5" fill="#000" stroke="#000" stroke-width="2.1"/></g>
<g transform="translate(667.29,221.31) rotate(49.81)"><rect x="-11" y="-5.75" width="22" height="11.5" rx="5" fill="#fff" stroke="#000" stroke-width="2.1"/></g>
<g transform="translate(683.09,243.17) rotate(56.04)"><rect x="-11" y="-5.75" width="22" height="11.5" rx="5" fill="#000" stroke="#000" stroke-width="2.1"/></g>
<g transform="translate(683.66,242.76) rotate(56.04)"><rect x="-11" y="-5.75" width="22" height="11.5" rx="5" fill="#fff" stroke="#000" stroke-width="2.1"/></g>
<g transform="translate(697.26,266.07) rotate(62.41)"><rect x="-11" y="-5.75" width="22" height="11.5" rx="5" fill="#000" stroke="#000" stroke-width="2.1"/></g>
<g transform="translate(697.86,265.71) rotate(62.41)"><rect x="-11" y="-5.75" width="22" height="11.5" rx="5" fill="#fff" stroke="#000" stroke-width="2.1"/></g>
<g transform="translate(708.19,290.69) rotate(68.06)"><rect x="-11" y="-5.75" width="22" height="11.5" rx="5" fill="#000" stroke="#000" stroke-width="2.1"/></g>
<g transform="translate(708.82,290.38) rotate(68.06)"><rect x="-11" y="-5.75" width="22" height="11.5" rx="5" fill="#fff" stroke="#000" stroke-width="2.1"/></g>
<g transform="translate(718.09,315.75) rotate(68.49)"><rect x="-11" y="-5.75" width="22" height="11.5" rx="5" fill="#000" stroke="#000" stroke-width="2.1"/></g>
<g transform="translate(718.74,315.49) rotate(68.49)"><rect x="-11" y="-5.75" width="22" height="11.5" rx="5" fill="#fff" stroke="#000" stroke-width="2.1"/></g>
<g transform="translate(727.71,340.91) rotate(70.12)"><rect x="-11" y="-5.75" width="22" height="11.5" rx="5" fill="#000" stroke="#000" stroke-width="2.1"/></g>
<g transform="translate(728.37,340.71) rotate(70.12)"><rect x="-11" y="-5.75" width="22" height="11.5" rx="5" fill="#fff" stroke="#000" stroke-width="2.1"/></g>
<g transform="translate(736,366.54) rotate(73.89)"><rect x="-11" y="-5.75" width="22" height="11.5" rx="5" fill="#000" stroke="#000" stroke-width="2.1"/></g>
<g transform="translate(736.69,366.39) rotate(73.89)"><rect x="-11" y="-5.75" width="22" height="11.5" rx="5" fill="#fff" stroke="#000" stroke-width="2.1"/></g>
<g transform="translate(742.61,392.65) rotate(78.3)"><rect x="-11" y="-5.75" width="22" height="11.5" rx="5" fill="#000" stroke="#000" stroke-width="2.1"/></g>
<g transform="translate(743.31,392.56) rotate(78.3)"><rect x="-11" y="-5.75" width="22" height="11.5" rx="5" fill="#fff" stroke="#000" stroke-width="2.1"/></g>
<g transform="translate(745.73,419.38) rotate(86.99)"><rect x="-11" y="-5.75" width="22" height="11.5" rx="5" fill="#000" stroke="#000" stroke-width="2.1"/></g>
<g transform="translate(746.42,419.35) rotate(86.99)"><rect x="-11" y="-5.75" width="22" height="11.5" rx="5" fill="#fff" stroke="#000" stroke-width="2.1"/></g>
<path d="M555.47,140.55 L555.98,140.81 L556.57,141.11 L557.23,141.45 L557.97,141.82 L558.78,142.23 L559.64,142.66 L560.55,143.12 L561.51,143.6 L562.51,144.11 L563.54,144.64 L564.59,145.18 L565.67,145.74 L566.75,146.31 L567.84,146.89 L568.92,147.48 L569.99,148.07 L571.05,148.67 L571.84,149.11 L572.64,149.57 L573.46,150.03 L574.29,150.51 L575.13,151 L575.99,151.5 L576.86,152 L577.74,152.51 L578.62,153.03 L579.52,153.56 L580.41,154.09 L581.32,154.63 L582.22,155.18 L583.13,155.72 L584.03,156.27 L584.94,156.83 L585.84,157.38 L586.74,157.94 L587.63,158.5 L588.52,159.06 L589.4,159.61 L590.27,160.17 L591.13,160.73 L591.97,161.28 L592.8,161.84 L593.62,162.39 L594.43,162.95 L595.23,163.51 L596.02,164.07 L596.8,164.64 L597.59,165.2 L598.37,165.77 L599.15,166.34 L599.94,166.92 L600.73,167.5 L601.53,168.08 L602.34,168.66 L603.15,169.25 L603.98,169.85 L604.83,170.45 L605.69,171.05 L606.57,171.66 L607.47,172.28 L608.39,172.9 L609.34,173.52 L610.31,174.16 L611.08,174.65 L611.88,175.15 L612.7,175.65 L613.54,176.16 L614.4,176.68 L615.29,177.2 L616.18,177.73 L617.1,178.26 L618.02,178.79 L618.95,179.33 L619.89,179.87 L620.84,180.41 L621.79,180.95 L622.75,181.5 L623.7,182.04 L624.65,182.59 L625.59,183.13 L626.53,183.68 L627.46,184.22 L628.38,184.77 L629.28,185.31 L630.17,185.84 L631.04,186.38 L631.9,186.91 L632.73,187.44 L633.54,187.96 L634.32,188.48 L635.08,188.99 L635.81,189.5 L636.5,190 L637.49,190.74 L638.44,191.48 L639.34,192.22 L640.19,192.95 L641.01,193.68 L641.8,194.4 L642.55,195.12 L643.28,195.83 L643.98,196.54 L644.66,197.24 L645.32,197.94 L645.96,198.63 L646.6,199.32 L647.22,200.01 L647.85,200.68 L648.47,201.36 L649.09,202.03 L649.72,202.69 L650.35,203.35 L651,204 L651.8,204.8 L652.58,205.56 L653.33,206.3 L654.06,207.01 L654.78,207.72 L655.48,208.41 L656.17,209.1 L656.86,209.79 L657.55,210.48 L658.25,211.19 L658.95,211.92 L659.66,212.67 L660.39,213.44 L661.13,214.26 L661.9,215.11 L662.7,216 L663.3,216.68 L663.91,217.38 L664.54,218.1 L665.17,218.83 L665.82,219.58 L666.47,220.35 L667.14,221.13 L667.81,221.92 L668.48,222.72 L669.15,223.53 L669.83,224.35 L670.51,225.17 L671.19,226 L671.86,226.83 L672.53,227.66 L673.2,228.49 L673.85,229.32 L674.5,230.15 L675.15,230.97 L675.78,231.79 L676.4,232.6 L677,233.4 L677.62,234.23 L678.23,235.06 L678.84,235.88 L679.44,236.7 L680.03,237.52 L680.61,238.34 L681.19,239.16 L681.76,239.98 L682.33,240.8 L682.89,241.63 L683.45,242.45 L684.01,243.28 L684.57,244.11 L685.12,244.95 L685.67,245.79 L686.23,246.64 L686.78,247.49 L687.33,248.36 L687.89,249.23 L688.44,250.11 L689,251 L689.51,251.81 L690.01,252.6 L690.5,253.38 L690.99,254.15 L691.48,254.91 L691.96,255.67 L692.44,256.43 L692.92,257.19 L693.4,257.95 L693.87,258.73 L694.35,259.51 L694.83,260.32 L695.32,261.13 L695.81,261.97 L696.3,262.84 L696.8,263.73 L697.3,264.65 L697.81,265.61 L698.33,266.6 L698.86,267.63 L699.39,268.71 L699.94,269.83 L700.5,271 L700.85,271.75 L701.21,272.51 L701.56,273.29 L701.92,274.08 L702.28,274.88 L702.65,275.69 L703.01,276.52 L703.38,277.36 L703.75,278.21 L704.12,279.07 L704.5,279.94 L704.87,280.83 L705.25,281.72 L705.63,282.63 L706.02,283.54 L706.4,284.47 L706.79,285.41 L707.18,286.35 L707.57,287.31 L707.97,288.28 L708.36,289.25 L708.76,290.24 L709.16,291.23 L709.56,292.24 L709.97,293.25 L710.38,294.27 L710.79,295.3 L711.2,296.34 L711.61,297.38 L712.03,298.43 L712.44,299.49 L712.87,300.56 L713.29,301.63 L713.71,302.72 L714.14,303.8 L714.57,304.9 L715,306 L715.33,306.84 L715.66,307.69 L716,308.55 L716.34,309.42 L716.69,310.3 L717.04,311.19 L717.4,312.09 L717.75,312.99 L718.11,313.91 L718.48,314.83 L718.84,315.76 L719.21,316.7 L719.58,317.64 L719.96,318.59 L720.33,319.54 L720.71,320.5 L721.09,321.47 L721.46,322.44 L721.84,323.41 L722.22,324.39 L722.6,325.37 L722.99,326.36 L723.37,327.35 L723.75,328.34 L724.13,329.33 L724.51,330.32 L724.89,331.31 L725.26,332.31 L725.64,333.31 L726.01,334.3 L726.38,335.3 L726.75,336.29 L727.12,337.28 L727.49,338.27 L727.85,339.26 L728.21,340.25 L728.57,341.24 L728.92,342.22 L729.27,343.2 L729.61,344.17 L729.95,345.14 L730.29,346.1 L730.62,347.06 L730.95,348.02 L731.27,348.97 L731.59,349.91 L731.9,350.85 L732.2,351.78 L732.5,352.7 L732.83,353.72 L733.16,354.75 L733.48,355.78 L733.8,356.81 L734.12,357.84 L734.44,358.87 L734.76,359.9 L735.07,360.93 L735.38,361.96 L735.69,363 L736,364.03 L736.3,365.06 L736.6,366.09 L736.9,367.12 L737.19,368.15 L737.48,369.17 L737.77,370.19 L738.05,371.22 L738.33,372.23 L738.61,373.25 L738.89,374.26 L739.16,375.27 L739.42,376.27 L739.69,377.27 L739.94,378.27 L740.2,379.26 L740.45,380.25 L740.7,381.23 L740.94,382.21 L741.18,383.18 L741.41,384.14 L741.64,385.1 L741.86,386.05 L742.08,386.99 L742.3,387.93 L742.51,388.86 L742.71,389.78 L742.91,390.7 L743.11,391.6 L743.3,392.5 L743.48,393.39 L743.66,394.27 L743.83,395.14 L744,396 L744.22,397.18 L744.42,398.35 L744.61,399.52 L744.79,400.69 L744.96,401.86 L745.11,403.01 L745.25,404.17 L745.38,405.31 L745.5,406.45 L745.62,407.57 L745.72,408.69 L745.81,409.79 L745.9,410.89 L745.98,411.97 L746.06,413.03 L746.12,414.08 L746.19,415.11 L746.25,416.13 L746.31,417.13 L746.36,418.11 L746.41,419.07 L746.46,420 L746.51,420.92 L746.55,421.81 L746.6,422.68 L746.65,423.52 L746.7,424.34 L746.75,425.13 L746.81,425.89 L746.87,426.62 L746.93,427.33 L747,428 L747.22,429.94 L747.42,431.57 L747.61,432.93 L747.78,434.06 L747.94,435 L748.08,435.78 L748.21,436.43 L748.32,436.99 L748.42,437.5 L748.5,438" fill="none" stroke="#000" stroke-width="4.4"/>
<path d="M555.47,140.55 L555.98,140.81 L556.57,141.11 L557.23,141.45 L557.97,141.82 L558.78,142.23 L559.64,142.66 L560.55,143.12 L561.51,143.6 L562.51,144.11 L563.54,144.64 L564.59,145.18 L565.67,145.74 L566.75,146.31 L567.84,146.89 L568.92,147.48 L569.99,148.07 L571.05,148.67 L571.84,149.11 L572.64,149.57 L573.46,150.03 L574.29,150.51 L575.13,151 L575.99,151.5 L576.86,152 L577.74,152.51 L578.62,153.03 L579.52,153.56 L580.41,154.09 L581.32,154.63 L582.22,155.18 L583.13,155.72 L584.03,156.27 L584.94,156.83 L585.84,157.38 L586.74,157.94 L587.63,158.5 L588.52,159.06 L589.4,159.61 L590.27,160.17 L591.13,160.73 L591.97,161.28 L592.8,161.84 L593.62,162.39 L594.43,162.95 L595.23,163.51 L596.02,164.07 L596.8,164.64 L597.59,165.2 L598.37,165.77 L599.15,166.34 L599.94,166.92 L600.73,167.5 L601.53,168.08 L602.34,168.66 L603.15,169.25 L603.98,169.85 L604.83,170.45 L605.69,171.05 L606.57,171.66 L607.47,172.28 L608.39,172.9 L609.34,173.52 L610.31,174.16 L611.08,174.65 L611.88,175.15 L612.7,175.65 L613.54,176.16 L614.4,176.68 L615.29,177.2 L616.18,177.73 L617.1,178.26 L618.02,178.79 L618.95,179.33 L619.89,179.87 L620.84,180.41 L621.79,180.95 L622.75,181.5 L623.7,182.04 L624.65,182.59 L625.59,183.13 L626.53,183.68 L627.46,184.22 L628.38,184.77 L629.28,185.31 L630.17,185.84 L631.04,186.38 L631.9,186.91 L632.73,187.44 L633.54,187.96 L634.32,188.48 L635.08,188.99 L635.81,189.5 L636.5,190 L637.49,190.74 L638.44,191.48 L639.34,192.22 L640.19,192.95 L641.01,193.68 L641.8,194.4 L642.55,195.12 L643.28,195.83 L643.98,196.54 L644.66,197.24 L645.32,197.94 L645.96,198.63 L646.6,199.32 L647.22,200.01 L647.85,200.68 L648.47,201.36 L649.09,202.03 L649.72,202.69 L650.35,203.35 L651,204 L651.8,204.8 L652.58,205.56 L653.33,206.3 L654.06,207.01 L654.78,207.72 L655.48,208.41 L656.17,209.1 L656.86,209.79 L657.55,210.48 L658.25,211.19 L658.95,211.92 L659.66,212.67 L660.39,213.44 L661.13,214.26 L661.9,215.11 L662.7,216 L663.3,216.68 L663.91,217.38 L664.54,218.1 L665.17,218.83 L665.82,219.58 L666.47,220.35 L667.14,221.13 L667.81,221.92 L668.48,222.72 L669.15,223.53 L669.83,224.35 L670.51,225.17 L671.19,226 L671.86,226.83 L672.53,227.66 L673.2,228.49 L673.85,229.32 L674.5,230.15 L675.15,230.97 L675.78,231.79 L676.4,232.6 L677,233.4 L677.62,234.23 L678.23,235.06 L678.84,235.88 L679.44,236.7 L680.03,237.52 L680.61,238.34 L681.19,239.16 L681.76,239.98 L682.33,240.8 L682.89,241.63 L683.45,242.45 L684.01,243.28 L684.57,244.11 L685.12,244.95 L685.67,245.79 L686.23,246.64 L686.78,247.49 L687.33,248.36 L687.89,249.23 L688.44,250.11 L689,251 L689.51,251.81 L690.01,252.6 L690.5,253.38 L690.99,254.15 L691.48,254.91 L691.96,255.67 L692.44,256.43 L692.92,257.19 L693.4,257.95 L693.87,258.73 L694.35,259.51 L694.83,260.32 L695.32,261.13 L695.81,261.97 L696.3,262.84 L696.8,263.73 L697.3,264.65 L697.81,265.61 L698.33,266.6 L698.86,267.63 L699.39,268.71 L699.94,269.83 L700.5,271 L700.85,271.75 L701.21,272.51 L701.56,273.29 L701.92,274.08 L702.28,274.88 L702.65,275.69 L703.01,276.52 L703.38,277.36 L703.75,278.21 L704.12,279.07 L704.5,279.94 L704.87,280.83 L705.25,281.72 L705.63,282.63 L706.02,283.54 L706.4,284.47 L706.79,285.41 L707.18,286.35 L707.57,287.31 L707.97,288.28 L708.36,289.25 L708.76,290.24 L709.16,291.23 L709.56,292.24 L709.97,293.25 L710.38,294.27 L710.79,295.3 L711.2,296.34 L711.61,297.38 L712.03,298.43 L712.44,299.49 L712.87,300.56 L713.29,301.63 L713.71,302.72 L714.14,303.8 L714.57,304.9 L715,306 L715.33,306.84 L715.66,307.69 L716,308.55 L716.34,309.42 L716.69,310.3 L717.04,311.19 L717.4,312.09 L717.75,312.99 L718.11,313.91 L718.48,314.83 L718.84,315.76 L719.21,316.7 L719.58,317.64 L719.96,318.59 L720.33,319.54 L720.71,320.5 L721.09,321.47 L721.46,322.44 L721.84,323.41 L722.22,324.39 L722.6,325.37 L722.99,326.36 L723.37,327.35 L723.75,328.34 L724.13,329.33 L724.51,330.32 L724.89,331.31 L725.26,332.31 L725.64,333.31 L726.01,334.3 L726.38,335.3 L726.75,336.29 L727.12,337.28 L727.49,338.27 L727.85,339.26 L728.21,340.25 L728.57,341.24 L728.92,342.22 L729.27,343.2 L729.61,344.17 L729.95,345.14 L730.29,346.1 L730.62,347.06 L730.95,348.02 L731.27,348.97 L731.59,349.91 L731.9,350.85 L732.2,351.78 L732.5,352.7 L732.83,353.72 L733.16,354.75 L733.48,355.78 L733.8,356.81 L734.12,357.84 L734.44,358.87 L734.76,359.9 L735.07,360.93 L735.38,361.96 L735.69,363 L736,364.03 L736.3,365.06 L736.6,366.09 L736.9,367.12 L737.19,368.15 L737.48,369.17 L737.77,370.19 L738.05,371.22 L738.33,372.23 L738.61,373.25 L738.89,374.26 L739.16,375.27 L739.42,376.27 L739.69,377.27 L739.94,378.27 L740.2,379.26 L740.45,380.25 L740.7,381.23 L740.94,382.21 L741.18,383.18 L741.41,384.14 L741.64,385.1 L741.86,386.05 L742.08,386.99 L742.3,387.93 L742.51,388.86 L742.71,389.78 L742.91,390.7 L743.11,391.6 L743.3,392.5 L743.48,393.39 L743.66,394.27 L743.83,395.14 L744,396 L744.22,397.18 L744.42,398.35 L744.61,399.52 L744.79,400.69 L744.96,401.86 L745.11,403.01 L745.25,404.17 L745.38,405.31 L745.5,406.45 L745.62,407.57 L745.72,408.69 L745.81,409.79 L745.9,410.89 L745.98,411.97 L746.06,413.03 L746.12,414.08 L746.19,415.11 L746.25,416.13 L746.31,417.13 L746.36,418.11 L746.41,419.07 L746.46,420 L746.51,420.92 L746.55,421.81 L746.6,422.68 L746.65,423.52 L746.7,424.34 L746.75,425.13 L746.81,425.89 L746.87,426.62 L746.93,427.33 L747,428 L747.22,429.94 L747.42,431.57 L747.61,432.93 L747.78,434.06 L747.94,435 L748.08,435.78 L748.21,436.43 L748.32,436.99 L748.42,437.5 L748.5,438" fill="none" stroke="#fff" stroke-width="1.7000000000000002"/>
<g transform="translate(559.04,142.36) rotate(26.67)" fill="#000"><rect x="-11" y="-2.2" width="3.1" height="4.4"/><rect x="7.9" y="-2.2" width="3.1" height="4.4"/></g>
<g transform="translate(582.65,155.44) rotate(31.13)" fill="#000"><rect x="-11" y="-2.2" width="3.1" height="4.4"/><rect x="7.9" y="-2.2" width="3.1" height="4.4"/></g>
<g transform="translate(605,170.57) rotate(35.07)" fill="#000"><rect x="-11" y="-2.2" width="3.1" height="4.4"/><rect x="7.9" y="-2.2" width="3.1" height="4.4"/></g>
<g transform="translate(628.06,184.58) rotate(30.57)" fill="#000"><rect x="-11" y="-2.2" width="3.1" height="4.4"/><rect x="7.9" y="-2.2" width="3.1" height="4.4"/></g>
<g transform="translate(648.77,201.68) rotate(47.05)" fill="#000"><rect x="-11" y="-2.2" width="3.1" height="4.4"/><rect x="7.9" y="-2.2" width="3.1" height="4.4"/></g>
<g transform="translate(667.29,221.31) rotate(49.81)" fill="#000"><rect x="-11" y="-2.2" width="3.1" height="4.4"/><rect x="7.9" y="-2.2" width="3.1" height="4.4"/></g>
<g transform="translate(683.66,242.76) rotate(56.04)" fill="#000"><rect x="-11" y="-2.2" width="3.1" height="4.4"/><rect x="7.9" y="-2.2" width="3.1" height="4.4"/></g>
<g transform="translate(697.86,265.71) rotate(62.41)" fill="#000"><rect x="-11" y="-2.2" width="3.1" height="4.4"/><rect x="7.9" y="-2.2" width="3.1" height="4.4"/></g>
<g transform="translate(708.82,290.38) rotate(68.06)" fill="#000"><rect x="-11" y="-2.2" width="3.1" height="4.4"/><rect x="7.9" y="-2.2" width="3.1" height="4.4"/></g>
<g transform="translate(718.74,315.49) rotate(68.49)" fill="#000"><rect x="-11" y="-2.2" width="3.1" height="4.4"/><rect x="7.9" y="-2.2" width="3.1" height="4.4"/></g>
<g transform="translate(728.37,340.71) rotate(70.12)" fill="#000"><rect x="-11" y="-2.2" width="3.1" height="4.4"/><rect x="7.9" y="-2.2" width="3.1" height="4.4"/></g>
<g transform="translate(736.69,366.39) rotate(73.89)" fill="#000"><rect x="-11" y="-2.2" width="3.1" height="4.4"/><rect x="7.9" y="-2.2" width="3.1" height="4.4"/></g>
<g transform="translate(743.31,392.56) rotate(78.3)" fill="#000"><rect x="-11" y="-2.2" width="3.1" height="4.4"/><rect x="7.9" y="-2.2" width="3.1" height="4.4"/></g>
<g transform="translate(746.42,419.35) rotate(86.99)" fill="#000"><rect x="-11" y="-2.2" width="3.1" height="4.4"/><rect x="7.9" y="-2.2" width="3.1" height="4.4"/></g>
<path d="M208.09,181.99 L211.61,179.32 L215.17,176.69 L218.76,174.11 L222.39,171.58 L226.05,169.1 L229.75,166.66 L233.48,164.28 L237.24,161.95 L241.03,159.67 L244.85,157.44 L248.7,155.26 L252.58,153.14 L256.48,151.06 L260.42,149.04 L264.38,147.08 L268.37,145.16 L272.38,143.3 L276.42,141.5 L280.48,139.75 L284.57,138.05 L288.67,136.41 L292.8,134.82 L296.96,133.29 L301.13,131.82 L305.32,130.4 L309.53,129.04 L313.75,127.74 L318,126.49 L322.26,125.3 L326.53,124.17 L330.82,123.1 L335.13,122.08 L339.45,121.12 L343.78,120.22 L348.12,119.38 L352.48,118.6 L356.84,117.87 L361.21,117.21 L365.59,116.6 L369.98,116.06 L374.38,115.57 L378.78,115.14 L383.19,114.77 L387.6,114.46 L392.02,114.21 L396.44,114.02 L400.86,113.89 L405.28,113.81 L409.71,113.8 L414.13,113.85 L418.55,113.96 L422.97,114.12 L427.39,114.35 L431.8,114.64 L436.21,114.98 L440.62,115.38 L445.02,115.85 L449.41,116.37 L453.8,116.95 L458.17,117.59 L462.54,118.29 L466.9,119.05 L471.25,119.87 L475.58,120.75 L479.9,121.68 L484.22,122.67 L488.51,123.72 L492.79,124.83 L497.06,126 L501.31,127.22 L505.55,128.5 L509.76,129.84 L513.96,131.23 L518.14,132.68 L522.3,134.19 L526.44,135.75 L530.55,137.37 L534.65,139.05 L538.72,140.77 L542.77,142.56 L546.79,144.39 L550.79,146.29 L554.76,148.23 L558.71,150.23 L562.63,152.28 L566.52,154.39 L570.38,156.54 L574.21,158.75 L578.02,161.01 L581.79,163.32 L585.53,165.68 L589.24,168.1 L592.91,170.56 L596.55,173.07 L600.16,175.63 L603.74,178.23 L607.27,180.89 L610.77,183.59 L614.24,186.34 L617.67,189.14 L609.32,199.23 L606.03,196.55 L602.7,193.91 L599.34,191.31 L595.94,188.76 L592.51,186.26 L589.05,183.8 L585.55,181.39 L582.02,179.03 L578.46,176.71 L574.87,174.45 L571.25,172.23 L567.6,170.06 L563.92,167.94 L560.21,165.87 L556.47,163.85 L552.71,161.88 L548.92,159.96 L545.11,158.09 L541.27,156.27 L537.41,154.51 L533.52,152.8 L529.61,151.14 L525.68,149.53 L521.73,147.98 L517.75,146.48 L513.76,145.03 L509.75,143.64 L505.72,142.3 L501.67,141.02 L497.61,139.79 L493.52,138.61 L489.43,137.49 L485.32,136.43 L481.19,135.42 L477.05,134.47 L472.9,133.57 L468.74,132.73 L464.56,131.94 L460.38,131.22 L456.19,130.54 L451.98,129.93 L447.77,129.37 L443.56,128.87 L439.33,128.42 L435.1,128.03 L430.87,127.7 L426.63,127.43 L422.39,127.21 L418.15,127.05 L413.9,126.95 L409.65,126.9 L405.41,126.91 L401.16,126.98 L396.92,127.11 L392.67,127.29 L388.43,127.53 L384.2,127.83 L379.96,128.19 L375.74,128.6 L371.52,129.07 L367.3,129.59 L363.09,130.17 L358.9,130.81 L354.71,131.51 L350.53,132.26 L346.36,133.07 L342.2,133.93 L338.05,134.85 L333.92,135.83 L329.8,136.86 L325.69,137.94 L321.6,139.09 L317.53,140.28 L313.47,141.53 L309.43,142.84 L305.41,144.2 L301.4,145.62 L297.42,147.09 L293.45,148.61 L289.51,150.18 L285.59,151.81 L281.69,153.49 L277.81,155.23 L273.96,157.01 L270.13,158.85 L266.32,160.74 L262.54,162.68 L258.79,164.67 L255.07,166.71 L251.37,168.8 L247.7,170.94 L244.07,173.13 L240.46,175.37 L236.88,177.66 L233.33,179.99 L229.81,182.37 L226.33,184.8 L222.88,187.28 L219.46,189.8 L216.08,192.37 Z" fill="#000"/>
<path d="M218.92,185.1 A319.3,319.3 0 0 1 606.73,191.87" fill="none" stroke="#fff" stroke-width="1.3"/>
<path d="M216.25,181.48 A323.8,323.8 0 0 1 609.53,188.34" fill="none" stroke="#fff" stroke-width="1.3"/>
<path d="M355.2,72.3 L465.1,72.3 L467.5,362.8 L357.4,362.8 Z" fill="#fff" stroke="#000" stroke-width="3.5"/>
<g clip-path="url(#boxclip)"><path d="M342.8,133.49 A315.5,315.5 0 0 1 474,133.49" fill="none" stroke="#000" stroke-width="1.6" stroke-dasharray="5.5,3.5"/><path d="M341.24,126.16 A323,323 0 0 1 475.56,126.16" fill="none" stroke="#000" stroke-width="1.6" stroke-dasharray="5.5,3.5"/><path d="M339.58,118.33 A331,331 0 0 1 477.22,118.33" fill="none" stroke="#000" stroke-width="1.6" stroke-dasharray="5.5,3.5"/><path d="M357,298 L394.5,336.0" fill="none" stroke="#000" stroke-width="1.6" stroke-dasharray="5.5,3.5" stroke-width="2.2"/><path d="M466,306 L435.5,333.0" fill="none" stroke="#000" stroke-width="1.6" stroke-dasharray="5.5,3.5" stroke-width="2.2"/><ellipse cx="392" cy="89.4" rx="11" ry="6.5" fill="none" stroke="#000" stroke-width="1.7" stroke-dasharray="2.2,1.8"/><ellipse cx="431.7" cy="90" rx="11" ry="6.5" fill="none" stroke="#000" stroke-width="1.7" stroke-dasharray="2.2,1.8"/><circle cx="412.4" cy="88.6" r="2.6" fill="none" stroke="#000" stroke-width="1.5"/><circle cx="392" cy="89" r="1.3"/><circle cx="431.7" cy="90" r="1.3"/><path d="M410,91 L404,110 M415,91 L422,110" fill="none" stroke="#000" stroke-width="1.7" stroke-dasharray="2.2,1.8"/><path d="M357,92.5 L381,88.5 M357,100 L383,93" fill="none" stroke="#000" stroke-width="1.6" stroke-dasharray="6,3"/><path d="M443,88 L466,95 M443,93 L466,102" fill="none" stroke="#000" stroke-width="1.7" stroke-dasharray="2.2,1.8"/></g>
<path d="M358.5,340.5 L363.6,333.7 L374.5,338.8 L384.6,327.9 L395.5,321.1 L404.8,328.7 L417.4,326.2 L427.5,323.6 L431.7,321.1 L434.2,332 L437.6,334.6 L457.8,333.4 L461.1,340.5 L465.4,342.2" fill="none" stroke="#000" stroke-width="1.8"/>
<line x1="356" y1="346.8" x2="468" y2="346.8" stroke="#000" stroke-width="2.6"/>
<text font-family="Liberation Sans, sans-serif" font-size="19" font-weight="normal" stroke="#000" stroke-width="1.0" transform="translate(387.5,303.5) rotate(-90)" textLength="157.7" lengthAdjust="spacingAndGlyphs">CASING  ROUND</text>
<text font-family="Liberation Sans, sans-serif" font-size="15.5" font-weight="normal" stroke="#000" stroke-width="0.9" transform="translate(408,303.5) rotate(-90)" textLength="158.5" lengthAdjust="spacingAndGlyphs">HAND STEERING</text>
<text font-family="Liberation Sans, sans-serif" font-size="15" font-weight="normal" stroke="#000" stroke-width="0.9" transform="translate(428.7,300) rotate(-90)" textLength="156" lengthAdjust="spacingAndGlyphs">GEAR.MECHANISM</text>
<text font-family="Liberation Sans, sans-serif" font-size="16.5" font-weight="normal" stroke="#000" stroke-width="0.9" transform="translate(449.3,299.5) rotate(-90)" textLength="121.2" lengthAdjust="spacingAndGlyphs">NOT  SHOWN</text>
<path d="M403.5,381 C404.5,392 399,396 391,398 L437.5,398 C429.5,396 424.5,392 425.5,381 Z" fill="#fff" stroke="#000" stroke-width="2.8"/>
<circle cx="414.9" cy="356.5" r="24" fill="#fff" stroke="#000" stroke-width="3.4"/>
<circle cx="412.7" cy="356" r="8" fill="none" stroke="#000" stroke-width="2.8"/>
<path d="M430,362 C455,368 480,372 506,383" fill="none" stroke="#000" stroke-width="1.5"/>
<path d="M425.5,359 L434,358.5 L429.5,367 Z" fill="#000"/>
<rect x="318" y="398.3" width="194" height="8.7" fill="#fff" stroke="#000" stroke-width="2.6"/>
<ellipse cx="361.7" cy="402.6" rx="4.6" ry="3.6" fill="#fff" stroke="#000" stroke-width="2.2"/>
<ellipse cx="414" cy="402.6" rx="4.6" ry="3.6" fill="#fff" stroke="#000" stroke-width="2.2"/>
<ellipse cx="468.5" cy="402.6" rx="4.6" ry="3.6" fill="#fff" stroke="#000" stroke-width="2.2"/>
<path d="M324.6,400 C318,396 304,395 303.5,402.2 C304,409 318,409 324.6,405 Z" fill="#fff" stroke="#000" stroke-width="2.4"/>
<path d="M505.4,400 C512,396 526,395 526.5,402.2 C526,409 512,409 505.4,405 Z" fill="#fff" stroke="#000" stroke-width="2.4"/>
<circle cx="413.7" cy="453" r="16" fill="none" stroke="#000" stroke-width="2.8"/>
<text font-family="Liberation Sans, sans-serif" font-size="15" font-weight="normal" stroke="#000" stroke-width="0.55" x="364" y="426.8" textLength="110" lengthAdjust="spacing">HANDWHEEL</text>
<text font-family="Liberation Sans, sans-serif" font-size="16.5" font-weight="normal" stroke="#000" stroke-width="0.6" x="374.7" y="486.4" textLength="90.3" lengthAdjust="spacing">COMPASS</text>
<text font-family="Liberation Sans, sans-serif" font-size="15.5" font-weight="normal" stroke="#000" stroke-width="0.6" x="505" y="370" textLength="73.5" lengthAdjust="spacing">RUDDER</text>
<text font-family="Liberation Sans, sans-serif" font-size="15.5" font-weight="normal" stroke="#000" stroke-width="0.6" x="512" y="386.5" textLength="50" lengthAdjust="spacing">HEAD</text>
<text font-family="Liberation Sans, sans-serif" font-size="17.5" font-weight="normal" stroke="#000" stroke-width="0.8" x="404.8" y="321" textLength="13.4" lengthAdjust="spacingAndGlyphs" >C</text>
<text font-family="Liberation Sans, sans-serif" font-size="20" font-weight="normal" stroke="#000" stroke-width="0.9" x="214.4" y="212.2" textLength="14" lengthAdjust="spacingAndGlyphs" >A</text>
<text font-family="Liberation Sans, sans-serif" font-size="16" font-weight="normal" stroke="#000" stroke-width="0.9" x="596" y="208" textLength="11" lengthAdjust="spacingAndGlyphs" >B</text>
<rect x="73" y="161" width="28" height="10" fill="#fff" stroke="#000" stroke-width="2.5"/>
<rect x="73" y="171" width="11" height="28" fill="#fff" stroke="#000" stroke-width="2.5"/>
<line x1="101" y1="165" x2="113" y2="164.5" stroke="#000" stroke-width="1.8"/>
<rect x="730.5" y="154.8" width="35.5" height="12" fill="#fff" stroke="#000" stroke-width="2.5"/>
<rect x="755.7" y="166.8" width="10.3" height="25" fill="#fff" stroke="#000" stroke-width="2.5"/>
<line x1="720" y1="158" x2="730.5" y2="159" stroke="#000" stroke-width="1.8"/>
<path d="M128,157 L355,92.6 M131,161.5 L355,101 M134,166.8 L355,167" stroke="#000" stroke-width="1.2" fill="none"/>
<path d="M704,152.5 L468,88 M703.5,156 L468,95 M703,160 L468,100 M703,160.5 L470,163 M740,201 L468,104" stroke="#000" stroke-width="1.2" fill="none"/>
<path d="M748,208.5 C756,221 766,231 776,237 M791,279.5 C786,285 781,290 779.7,297.4" stroke="#000" stroke-width="1.2" fill="none"/>
<ellipse cx="123" cy="164" rx="10" ry="5.8" fill="#fff" stroke="#000" stroke-width="2.5"/>
<circle cx="123" cy="164" r="1.7"/>
<ellipse cx="712" cy="157.4" rx="8.7" ry="6.3" fill="#fff" stroke="#000" stroke-width="2.5"/>
<circle cx="712" cy="157.4" r="1.6"/>
<circle cx="744.3" cy="205" r="5.8" fill="#fff" stroke="#000" stroke-width="1.9"/>
<circle cx="744.3" cy="205" r="1.3"/>
<line x1="747" y1="200" x2="753" y2="192" stroke="#000" stroke-width="1.3"/>
<rect x="23" y="228.5" width="30" height="57.5" fill="#fff" stroke="#000" stroke-width="2.7"/>
<circle cx="37.8" cy="244" r="10.5" fill="none" stroke="#000" stroke-width="2"/>
<circle cx="37.8" cy="271" r="10.5" fill="none" stroke="#000" stroke-width="2"/>
<rect x="776.6" y="222.6" width="30.3" height="57.4" fill="#fff" stroke="#000" stroke-width="2.5"/>
<circle cx="791.7" cy="237.8" r="10.6" fill="none" stroke="#000" stroke-width="2.1"/>
<circle cx="790.3" cy="265.7" r="10.6" fill="none" stroke="#000" stroke-width="2.3"/>
<path d="M775.4,236.3 L783,246.5 L790,251.5" fill="none" stroke="#000" stroke-width="1.2"/>
<circle cx="143.2" cy="277.5" r="12.3" fill="#fff" stroke="#000" stroke-width="3.7"/>
<circle cx="143.2" cy="277.5" r="1.8" fill="none" stroke="#000" stroke-width="1.7"/>
<circle cx="101.5" cy="414" r="14.3" fill="#fff" stroke="#000" stroke-width="3.7"/>
<circle cx="101.5" cy="414" r="3.2" fill="none" stroke="#000" stroke-width="1.7"/>
<circle cx="683.9" cy="276.5" r="12" fill="#fff" stroke="#000" stroke-width="3.7"/>
<circle cx="683.9" cy="276.5" r="2.2" fill="none" stroke="#000" stroke-width="1.7"/>
<circle cx="727.5" cy="413.8" r="14" fill="#fff" stroke="#000" stroke-width="3.7"/>
<circle cx="727.5" cy="413.8" r="3" fill="none" stroke="#000" stroke-width="1.7"/>
<path d="M179.7,283.2 L187.9,285.1 L180.5,299.5 L172.5,298 Z" fill="#fff" stroke="#000" stroke-width="2.6" stroke-linejoin="round"/>
<path d="M178,297 L195.6,304.8 L192.7,310.6 L172,301.5 Z" fill="#fff" stroke="#000" stroke-width="2.6" stroke-linejoin="round"/>
<path d="M179.2,273.1 L206.2,285.6 L202.8,293.3 L176.3,279.3 Z" fill="#fff" stroke="#000" stroke-width="2.6" stroke-linejoin="round"/>
<path d="M636,279.5 L642.5,276 L650,294.5 L643,297 Z" fill="#fff" stroke="#000" stroke-width="2.6" stroke-linejoin="round"/>
<path d="M622.5,303 L645.5,291 L649.5,297.5 L626.5,309.5 Z" fill="#fff" stroke="#000" stroke-width="2.6" stroke-linejoin="round"/>
<path d="M612.7,284.1 L639.2,267.7 L643.8,274.8 L617.7,290.4 Z" fill="#fff" stroke="#000" stroke-width="2.6" stroke-linejoin="round"/>
<text font-family="Liberation Sans, sans-serif" font-size="15" font-weight="bold" stroke="#000" stroke-width="0.25" x="88" y="153" textLength="11" lengthAdjust="spacingAndGlyphs" >F</text>
<text font-family="Liberation Sans, sans-serif" font-size="15" font-weight="bold" stroke="#000" stroke-width="0.25" x="163" y="137" textLength="10.5" lengthAdjust="spacingAndGlyphs" >H</text>
<text font-family="Liberation Sans, sans-serif" font-size="15" font-weight="bold" stroke="#000" stroke-width="0.25" x="734.5" y="149.5" textLength="10.5" lengthAdjust="spacingAndGlyphs" >F</text>
<text font-family="Liberation Sans, sans-serif" font-size="15" font-weight="bold" stroke="#000" stroke-width="0.25" x="623.5" y="127" textLength="13" lengthAdjust="spacingAndGlyphs" >H</text>
<text font-family="Liberation Sans, sans-serif" font-size="15" font-weight="bold" stroke="#000" stroke-width="0.25" x="722.6" y="211.6" textLength="8" lengthAdjust="spacingAndGlyphs" >J</text>
<text font-family="Liberation Sans, sans-serif" font-size="18" font-weight="normal" stroke="#000" stroke-width="0.4" x="59" y="250.7" textLength="11.7" lengthAdjust="spacingAndGlyphs" >G</text>
<text font-family="Liberation Sans, sans-serif" font-size="16.5" font-weight="normal" stroke="#000" stroke-width="0.4" x="751.4" y="243.6" textLength="13" lengthAdjust="spacingAndGlyphs" >G</text>
<text font-family="Liberation Sans, sans-serif" font-size="17.5" font-weight="normal" stroke="#000" stroke-width="0.4" x="209" y="285.8" textLength="9.7" lengthAdjust="spacingAndGlyphs" >E</text>
<text font-family="Liberation Sans, sans-serif" font-size="17.5" font-weight="normal" stroke="#000" stroke-width="0.4" x="602.6" y="271.9" textLength="10.4" lengthAdjust="spacingAndGlyphs" >E</text>
<text font-family="Liberation Sans, sans-serif" font-size="16.5" font-weight="normal" stroke="#000" stroke-width="0.4" x="132.7" y="310" textLength="13" lengthAdjust="spacingAndGlyphs" >D</text>
<text font-family="Liberation Sans, sans-serif" font-size="16.5" font-weight="normal" stroke="#000" stroke-width="0.4" x="121" y="432" textLength="11.7" lengthAdjust="spacingAndGlyphs" >D</text>
<text font-family="Liberation Sans, sans-serif" font-size="14" font-weight="normal" stroke="#000" stroke-width="0.4" x="684.5" y="307.6" textLength="11.5" lengthAdjust="spacingAndGlyphs" >D</text>
<text font-family="Liberation Sans, sans-serif" font-size="14" font-weight="normal" stroke="#000" stroke-width="0.4" x="713.6" y="444" textLength="11.4" lengthAdjust="spacingAndGlyphs" >D</text>
<path id="cpt" d="M66,420.35 A356.8,356.8 0 0 1 360.79,89.52" fill="none"/>
<path d="M137.34,217.13 A362.3,362.3 0 0 1 347.83,86.42" fill="none" stroke="#fff" stroke-width="13.5"/>
<text font-family="Liberation Sans, sans-serif" font-size="15.5" fill="#fff" stroke="#fff" stroke-width="7" stroke-linejoin="round"><textPath href="#cpt" startOffset="41.84" textLength="50.38" lengthAdjust="spacing">CHAIN</textPath></text>
<text font-family="Liberation Sans, sans-serif" font-size="15.5" fill="#fff" stroke="#fff" stroke-width="7" stroke-linejoin="round"><textPath href="#cpt" startOffset="102.6" textLength="77.05" lengthAdjust="spacing">PASSING</textPath></text>
<text font-family="Liberation Sans, sans-serif" font-size="15.5" fill="#fff" stroke="#fff" stroke-width="7" stroke-linejoin="round"><textPath href="#cpt" startOffset="188.34" textLength="21.48" lengthAdjust="spacing">TO</textPath></text>
<text font-family="Liberation Sans, sans-serif" font-size="15.5" fill="#fff" stroke="#fff" stroke-width="7" stroke-linejoin="round"><textPath href="#cpt" startOffset="217" textLength="76.79" lengthAdjust="spacing">OPPOSITE</textPath></text>
<text font-family="Liberation Sans, sans-serif" font-size="15.5" fill="#fff" stroke="#fff" stroke-width="7" stroke-linejoin="round"><textPath href="#cpt" startOffset="300.28" textLength="31.47" lengthAdjust="spacing">END</textPath></text>
<text font-family="Liberation Sans, sans-serif" font-size="15.5" fill="#fff" stroke="#fff" stroke-width="7" stroke-linejoin="round"><textPath href="#cpt" startOffset="340.22" textLength="23.77" lengthAdjust="spacing">OF</textPath></text>
<text font-family="Liberation Sans, sans-serif" font-size="15.5" fill="#fff" stroke="#fff" stroke-width="7" stroke-linejoin="round"><textPath href="#cpt" startOffset="368.86" textLength="97.17" lengthAdjust="spacing">QUADRANT</textPath></text>
<text font-family="Liberation Sans, sans-serif" font-size="16" stroke="#000" stroke-width="0.75"><textPath href="#cpt" startOffset="41.84" textLength="50.38" lengthAdjust="spacing">CHAIN</textPath></text>
<text font-family="Liberation Sans, sans-serif" font-size="16" stroke="#000" stroke-width="0.75"><textPath href="#cpt" startOffset="102.6" textLength="77.05" lengthAdjust="spacing">PASSING</textPath></text>
<text font-family="Liberation Sans, sans-serif" font-size="16" stroke="#000" stroke-width="0.75"><textPath href="#cpt" startOffset="188.34" textLength="21.48" lengthAdjust="spacing">TO</textPath></text>
<text font-family="Liberation Sans, sans-serif" font-size="16" stroke="#000" stroke-width="0.75"><textPath href="#cpt" startOffset="217" textLength="76.79" lengthAdjust="spacing">OPPOSITE</textPath></text>
<text font-family="Liberation Sans, sans-serif" font-size="16" stroke="#000" stroke-width="0.75"><textPath href="#cpt" startOffset="300.28" textLength="31.47" lengthAdjust="spacing">END</textPath></text>
<text font-family="Liberation Sans, sans-serif" font-size="16" stroke="#000" stroke-width="0.75"><textPath href="#cpt" startOffset="340.22" textLength="23.77" lengthAdjust="spacing">OF</textPath></text>
<text font-family="Liberation Sans, sans-serif" font-size="16" stroke="#000" stroke-width="0.75"><textPath href="#cpt" startOffset="368.86" textLength="97.17" lengthAdjust="spacing">QUADRANT</textPath></text>
<path id="chp" d="M658.64,198.41 A341,341 0 0 1 708.82,263.93" fill="none"/>
<text font-family="Liberation Sans, sans-serif" font-size="15.5" stroke="#000" stroke-width="0.5"><textPath href="#chp" textLength="66" lengthAdjust="spacing">CHAIN</textPath></text>
<circle cx="79.6" cy="447" r="7.6" fill="#fff" stroke="#000" stroke-width="4"/>
<path d="M67.85,458 Q67.85,454 79.6,453.5 L89.35,452.5 Q91.35,452.5 91.35,456 L91.35,624 L67.85,627 Z" fill="#000"/>
<line x1="71.35" y1="461.6" x2="88.35" y2="457.1" stroke="#fff" stroke-width="2.6" stroke-linecap="round"/>
<line x1="71.35" y1="467.2" x2="88.35" y2="462.7" stroke="#fff" stroke-width="2.6" stroke-linecap="round"/>
<line x1="71.35" y1="472.8" x2="88.35" y2="468.3" stroke="#fff" stroke-width="2.6" stroke-linecap="round"/>
<line x1="71.35" y1="478.4" x2="88.35" y2="473.9" stroke="#fff" stroke-width="2.6" stroke-linecap="round"/>
<line x1="71.35" y1="484" x2="88.35" y2="479.5" stroke="#fff" stroke-width="2.6" stroke-linecap="round"/>
<line x1="71.35" y1="489.6" x2="88.35" y2="485.1" stroke="#fff" stroke-width="2.6" stroke-linecap="round"/>
<line x1="71.35" y1="495.2" x2="88.35" y2="490.7" stroke="#fff" stroke-width="2.6" stroke-linecap="round"/>
<line x1="71.35" y1="500.8" x2="88.35" y2="496.3" stroke="#fff" stroke-width="2.6" stroke-linecap="round"/>
<line x1="71.35" y1="506.4" x2="88.35" y2="501.9" stroke="#fff" stroke-width="2.6" stroke-linecap="round"/>
<line x1="71.35" y1="512" x2="88.35" y2="507.5" stroke="#fff" stroke-width="2.6" stroke-linecap="round"/>
<line x1="71.35" y1="517.6" x2="88.35" y2="513.1" stroke="#fff" stroke-width="2.6" stroke-linecap="round"/>
<line x1="71.35" y1="523.2" x2="88.35" y2="518.7" stroke="#fff" stroke-width="2.6" stroke-linecap="round"/>
<line x1="71.35" y1="528.8" x2="88.35" y2="524.3" stroke="#fff" stroke-width="2.6" stroke-linecap="round"/>
<line x1="71.35" y1="534.4" x2="88.35" y2="529.9" stroke="#fff" stroke-width="2.6" stroke-linecap="round"/>
<line x1="71.35" y1="540" x2="88.35" y2="535.5" stroke="#fff" stroke-width="2.6" stroke-linecap="round"/>
<line x1="71.35" y1="545.6" x2="88.35" y2="541.1" stroke="#fff" stroke-width="2.6" stroke-linecap="round"/>
<line x1="71.35" y1="551.2" x2="88.35" y2="546.7" stroke="#fff" stroke-width="2.6" stroke-linecap="round"/>
<line x1="71.35" y1="556.8" x2="88.35" y2="552.3" stroke="#fff" stroke-width="2.6" stroke-linecap="round"/>
<line x1="71.35" y1="562.4" x2="88.35" y2="557.9" stroke="#fff" stroke-width="2.6" stroke-linecap="round"/>
<line x1="71.35" y1="568" x2="88.35" y2="563.5" stroke="#fff" stroke-width="2.6" stroke-linecap="round"/>
<line x1="71.35" y1="573.6" x2="88.35" y2="569.1" stroke="#fff" stroke-width="2.6" stroke-linecap="round"/>
<line x1="71.35" y1="579.2" x2="88.35" y2="574.7" stroke="#fff" stroke-width="2.6" stroke-linecap="round"/>
<line x1="71.35" y1="584.8" x2="88.35" y2="580.3" stroke="#fff" stroke-width="2.6" stroke-linecap="round"/>
<line x1="71.35" y1="590.4" x2="88.35" y2="585.9" stroke="#fff" stroke-width="2.6" stroke-linecap="round"/>
<line x1="71.35" y1="596" x2="88.35" y2="591.5" stroke="#fff" stroke-width="2.6" stroke-linecap="round"/>
<line x1="71.35" y1="601.6" x2="88.35" y2="597.1" stroke="#fff" stroke-width="2.6" stroke-linecap="round"/>
<line x1="71.35" y1="607.2" x2="88.35" y2="602.7" stroke="#fff" stroke-width="2.6" stroke-linecap="round"/>
<line x1="71.35" y1="612.8" x2="88.35" y2="608.3" stroke="#fff" stroke-width="2.6" stroke-linecap="round"/>
<line x1="71.35" y1="618.4" x2="88.35" y2="613.9" stroke="#fff" stroke-width="2.6" stroke-linecap="round"/>
<line x1="71.35" y1="624" x2="88.35" y2="619.5" stroke="#fff" stroke-width="2.6" stroke-linecap="round"/>
<ellipse cx="79.6" cy="631" rx="6" ry="5" fill="#000"/>
<rect x="73.5" y="639" width="13" height="19" rx="5.5" fill="#fff" stroke="#000" stroke-width="2.4"/>
<rect x="78.4" y="643" width="3.2" height="11" fill="none" stroke="#000" stroke-width="1.4"/>
<line x1="79.6" y1="633" x2="80" y2="640" stroke="#000" stroke-width="2.4"/>
<line x1="80" y1="658" x2="80.5" y2="1012" stroke="#000" stroke-width="4.6"/>
<circle cx="747.4" cy="445" r="7.6" fill="#fff" stroke="#000" stroke-width="4"/>
<path d="M735.65,456.5 Q735.65,452.5 747.4,452 L757.15,451 Q759.15,451 759.15,454.5 L759.15,619 L735.65,622 Z" fill="#000"/>
<line x1="739.15" y1="460.1" x2="756.15" y2="455.6" stroke="#fff" stroke-width="2.6" stroke-linecap="round"/>
<line x1="739.15" y1="465.7" x2="756.15" y2="461.2" stroke="#fff" stroke-width="2.6" stroke-linecap="round"/>
<line x1="739.15" y1="471.3" x2="756.15" y2="466.8" stroke="#fff" stroke-width="2.6" stroke-linecap="round"/>
<line x1="739.15" y1="476.9" x2="756.15" y2="472.4" stroke="#fff" stroke-width="2.6" stroke-linecap="round"/>
<line x1="739.15" y1="482.5" x2="756.15" y2="478" stroke="#fff" stroke-width="2.6" stroke-linecap="round"/>
<line x1="739.15" y1="488.1" x2="756.15" y2="483.6" stroke="#fff" stroke-width="2.6" stroke-linecap="round"/>
<line x1="739.15" y1="493.7" x2="756.15" y2="489.2" stroke="#fff" stroke-width="2.6" stroke-linecap="round"/>
<line x1="739.15" y1="499.3" x2="756.15" y2="494.8" stroke="#fff" stroke-width="2.6" stroke-linecap="round"/>
<line x1="739.15" y1="504.9" x2="756.15" y2="500.4" stroke="#fff" stroke-width="2.6" stroke-linecap="round"/>
<line x1="739.15" y1="510.5" x2="756.15" y2="506" stroke="#fff" stroke-width="2.6" stroke-linecap="round"/>
<line x1="739.15" y1="516.1" x2="756.15" y2="511.6" stroke="#fff" stroke-width="2.6" stroke-linecap="round"/>
<line x1="739.15" y1="521.7" x2="756.15" y2="517.2" stroke="#fff" stroke-width="2.6" stroke-linecap="round"/>
<line x1="739.15" y1="527.3" x2="756.15" y2="522.8" stroke="#fff" stroke-width="2.6" stroke-linecap="round"/>
<line x1="739.15" y1="532.9" x2="756.15" y2="528.4" stroke="#fff" stroke-width="2.6" stroke-linecap="round"/>
<line x1="739.15" y1="538.5" x2="756.15" y2="534" stroke="#fff" stroke-width="2.6" stroke-linecap="round"/>
<line x1="739.15" y1="544.1" x2="756.15" y2="539.6" stroke="#fff" stroke-width="2.6" stroke-linecap="round"/>
<line x1="739.15" y1="549.7" x2="756.15" y2="545.2" stroke="#fff" stroke-width="2.6" stroke-linecap="round"/>
<line x1="739.15" y1="555.3" x2="756.15" y2="550.8" stroke="#fff" stroke-width="2.6" stroke-linecap="round"/>
<line x1="739.15" y1="560.9" x2="756.15" y2="556.4" stroke="#fff" stroke-width="2.6" stroke-linecap="round"/>
<line x1="739.15" y1="566.5" x2="756.15" y2="562" stroke="#fff" stroke-width="2.6" stroke-linecap="round"/>
<line x1="739.15" y1="572.1" x2="756.15" y2="567.6" stroke="#fff" stroke-width="2.6" stroke-linecap="round"/>
<line x1="739.15" y1="577.7" x2="756.15" y2="573.2" stroke="#fff" stroke-width="2.6" stroke-linecap="round"/>
<line x1="739.15" y1="583.3" x2="756.15" y2="578.8" stroke="#fff" stroke-width="2.6" stroke-linecap="round"/>
<line x1="739.15" y1="588.9" x2="756.15" y2="584.4" stroke="#fff" stroke-width="2.6" stroke-linecap="round"/>
<line x1="739.15" y1="594.5" x2="756.15" y2="590" stroke="#fff" stroke-width="2.6" stroke-linecap="round"/>
<line x1="739.15" y1="600.1" x2="756.15" y2="595.6" stroke="#fff" stroke-width="2.6" stroke-linecap="round"/>
<line x1="739.15" y1="605.7" x2="756.15" y2="601.2" stroke="#fff" stroke-width="2.6" stroke-linecap="round"/>
<line x1="739.15" y1="611.3" x2="756.15" y2="606.8" stroke="#fff" stroke-width="2.6" stroke-linecap="round"/>
<line x1="739.15" y1="616.9" x2="756.15" y2="612.4" stroke="#fff" stroke-width="2.6" stroke-linecap="round"/>
<ellipse cx="747.4" cy="626" rx="6" ry="5" fill="#000"/>
<rect x="743" y="634" width="13" height="19" rx="5.5" fill="#fff" stroke="#000" stroke-width="2.4"/>
<rect x="747.9" y="638" width="3.2" height="11" fill="none" stroke="#000" stroke-width="1.4"/>
<line x1="747.4" y1="628" x2="749.5" y2="635" stroke="#000" stroke-width="2.4"/>
<line x1="749.5" y1="653" x2="751" y2="1010" stroke="#000" stroke-width="4.6"/>
<g transform="translate(79.51,1026.2) rotate(90)"><rect x="-14.5" y="-8" width="29" height="16" rx="6.96" fill="#000" stroke="#000" stroke-width="2.6"/></g>
<g transform="translate(79.5,1025.5) rotate(90)"><rect x="-14.5" y="-8" width="29" height="16" rx="6.96" fill="#fff" stroke="#000" stroke-width="2.6"/></g>
<g transform="translate(79.52,1057.2) rotate(90)"><rect x="-14.5" y="-8" width="29" height="16" rx="6.96" fill="#000" stroke="#000" stroke-width="2.6"/></g>
<g transform="translate(79.5,1056.5) rotate(90)"><rect x="-14.5" y="-8" width="29" height="16" rx="6.96" fill="#fff" stroke="#000" stroke-width="2.6"/></g>
<g transform="translate(79.55,1088.2) rotate(90)"><rect x="-14.5" y="-8" width="29" height="16" rx="6.96" fill="#000" stroke="#000" stroke-width="2.6"/></g>
<g transform="translate(79.5,1087.5) rotate(90)"><rect x="-14.5" y="-8" width="29" height="16" rx="6.96" fill="#fff" stroke="#000" stroke-width="2.6"/></g>
<g transform="translate(79.55,1117.8) rotate(90)"><rect x="-14.5" y="-8" width="29" height="16" rx="6.96" fill="#000" stroke="#000" stroke-width="2.6"/></g>
<g transform="translate(79.5,1118.5) rotate(90)"><rect x="-14.5" y="-8" width="29" height="16" rx="6.96" fill="#fff" stroke="#000" stroke-width="2.6"/></g>
<g transform="translate(79.52,1148.8) rotate(90)"><rect x="-14.5" y="-8" width="29" height="16" rx="6.96" fill="#000" stroke="#000" stroke-width="2.6"/></g>
<g transform="translate(79.5,1149.5) rotate(90)"><rect x="-14.5" y="-8" width="29" height="16" rx="6.96" fill="#fff" stroke="#000" stroke-width="2.6"/></g>
<g transform="translate(79.51,1179.8) rotate(90)"><rect x="-14.5" y="-8" width="29" height="16" rx="6.96" fill="#000" stroke="#000" stroke-width="2.6"/></g>
<g transform="translate(79.5,1180.5) rotate(90)"><rect x="-14.5" y="-8" width="29" height="16" rx="6.96" fill="#fff" stroke="#000" stroke-width="2.6"/></g>
<path d="M79.5,1010 L79.5,1010.51 L79.5,1011.03 L79.5,1011.57 L79.5,1012.13 L79.5,1012.7 L79.5,1013.28 L79.5,1013.89 L79.5,1014.5 L79.5,1015.13 L79.5,1015.78 L79.5,1016.44 L79.5,1017.11 L79.5,1017.8 L79.5,1018.5 L79.5,1019.22 L79.5,1019.95 L79.5,1020.69 L79.5,1021.44 L79.5,1022.21 L79.5,1022.99 L79.5,1023.79 L79.5,1024.6 L79.5,1025.41 L79.5,1026.25 L79.5,1027.09 L79.5,1027.94 L79.5,1028.81 L79.5,1029.69 L79.5,1030.58 L79.5,1031.48 L79.5,1032.39 L79.5,1033.31 L79.5,1034.24 L79.5,1035.19 L79.5,1036.14 L79.5,1037.1 L79.5,1038.08 L79.5,1039.06 L79.5,1040.05 L79.5,1041.05 L79.5,1042.06 L79.5,1043.08 L79.5,1044.11 L79.5,1045.15 L79.5,1046.2 L79.5,1047.25 L79.5,1048.31 L79.5,1049.38 L79.5,1050.46 L79.5,1051.55 L79.5,1052.64 L79.5,1053.74 L79.5,1054.85 L79.5,1055.96 L79.5,1057.09 L79.5,1058.21 L79.5,1059.35 L79.5,1060.49 L79.5,1061.64 L79.5,1062.79 L79.5,1063.95 L79.5,1065.11 L79.5,1066.28 L79.5,1067.45 L79.5,1068.63 L79.5,1069.82 L79.5,1071.01 L79.5,1072.2 L79.5,1073.4 L79.5,1074.6 L79.5,1075.81 L79.5,1077.02 L79.5,1078.23 L79.5,1079.45 L79.5,1080.67 L79.5,1081.89 L79.5,1083.12 L79.5,1084.35 L79.5,1085.58 L79.5,1086.81 L79.5,1088.05 L79.5,1089.29 L79.5,1090.53 L79.5,1091.77 L79.5,1093.01 L79.5,1094.26 L79.5,1095.51 L79.5,1096.75 L79.5,1098 L79.5,1099.25 L79.5,1100.5 L79.5,1101.75 L79.5,1103 L79.5,1104.25 L79.5,1105.5 L79.5,1106.75 L79.5,1108 L79.5,1109.25 L79.5,1110.49 L79.5,1111.74 L79.5,1112.99 L79.5,1114.23 L79.5,1115.47 L79.5,1116.71 L79.5,1117.95 L79.5,1119.19 L79.5,1120.42 L79.5,1121.65 L79.5,1122.88 L79.5,1124.11 L79.5,1125.33 L79.5,1126.55 L79.5,1127.77 L79.5,1128.98 L79.5,1130.19 L79.5,1131.4 L79.5,1132.6 L79.5,1133.8 L79.5,1134.99 L79.5,1136.18 L79.5,1137.37 L79.5,1138.55 L79.5,1139.72 L79.5,1140.89 L79.5,1142.05 L79.5,1143.21 L79.5,1144.36 L79.5,1145.51 L79.5,1146.65 L79.5,1147.79 L79.5,1148.91 L79.5,1150.04 L79.5,1151.15 L79.5,1152.26 L79.5,1153.36 L79.5,1154.45 L79.5,1155.54 L79.5,1156.62 L79.5,1157.69 L79.5,1158.75 L79.5,1159.8 L79.5,1160.85 L79.5,1161.89 L79.5,1162.92 L79.5,1163.94 L79.5,1164.95 L79.5,1165.95 L79.5,1166.94 L79.5,1167.92 L79.5,1168.9 L79.5,1169.86 L79.5,1170.81 L79.5,1171.76 L79.5,1172.69 L79.5,1173.61 L79.5,1174.52 L79.5,1175.42 L79.5,1176.31 L79.5,1177.19 L79.5,1178.06 L79.5,1178.91 L79.5,1179.75 L79.5,1180.59 L79.5,1181.4 L79.5,1182.21 L79.5,1183.01 L79.5,1183.79 L79.5,1184.56 L79.5,1185.31 L79.5,1186.05 L79.5,1186.78 L79.5,1187.5 L79.5,1188.2 L79.5,1188.89 L79.5,1189.56 L79.5,1190.22 L79.5,1190.87 L79.5,1191.5 L79.5,1192.11 L79.5,1192.72 L79.5,1193.3 L79.5,1193.87 L79.5,1194.43 L79.5,1194.97 L79.5,1195.49 L79.5,1196" fill="none" stroke="#000" stroke-width="6"/>
<path d="M79.5,1010 L79.5,1010.51 L79.5,1011.03 L79.5,1011.57 L79.5,1012.13 L79.5,1012.7 L79.5,1013.28 L79.5,1013.89 L79.5,1014.5 L79.5,1015.13 L79.5,1015.78 L79.5,1016.44 L79.5,1017.11 L79.5,1017.8 L79.5,1018.5 L79.5,1019.22 L79.5,1019.95 L79.5,1020.69 L79.5,1021.44 L79.5,1022.21 L79.5,1022.99 L79.5,1023.79 L79.5,1024.6 L79.5,1025.41 L79.5,1026.25 L79.5,1027.09 L79.5,1027.94 L79.5,1028.81 L79.5,1029.69 L79.5,1030.58 L79.5,1031.48 L79.5,1032.39 L79.5,1033.31 L79.5,1034.24 L79.5,1035.19 L79.5,1036.14 L79.5,1037.1 L79.5,1038.08 L79.5,1039.06 L79.5,1040.05 L79.5,1041.05 L79.5,1042.06 L79.5,1043.08 L79.5,1044.11 L79.5,1045.15 L79.5,1046.2 L79.5,1047.25 L79.5,1048.31 L79.5,1049.38 L79.5,1050.46 L79.5,1051.55 L79.5,1052.64 L79.5,1053.74 L79.5,1054.85 L79.5,1055.96 L79.5,1057.09 L79.5,1058.21 L79.5,1059.35 L79.5,1060.49 L79.5,1061.64 L79.5,1062.79 L79.5,1063.95 L79.5,1065.11 L79.5,1066.28 L79.5,1067.45 L79.5,1068.63 L79.5,1069.82 L79.5,1071.01 L79.5,1072.2 L79.5,1073.4 L79.5,1074.6 L79.5,1075.81 L79.5,1077.02 L79.5,1078.23 L79.5,1079.45 L79.5,1080.67 L79.5,1081.89 L79.5,1083.12 L79.5,1084.35 L79.5,1085.58 L79.5,1086.81 L79.5,1088.05 L79.5,1089.29 L79.5,1090.53 L79.5,1091.77 L79.5,1093.01 L79.5,1094.26 L79.5,1095.51 L79.5,1096.75 L79.5,1098 L79.5,1099.25 L79.5,1100.5 L79.5,1101.75 L79.5,1103 L79.5,1104.25 L79.5,1105.5 L79.5,1106.75 L79.5,1108 L79.5,1109.25 L79.5,1110.49 L79.5,1111.74 L79.5,1112.99 L79.5,1114.23 L79.5,1115.47 L79.5,1116.71 L79.5,1117.95 L79.5,1119.19 L79.5,1120.42 L79.5,1121.65 L79.5,1122.88 L79.5,1124.11 L79.5,1125.33 L79.5,1126.55 L79.5,1127.77 L79.5,1128.98 L79.5,1130.19 L79.5,1131.4 L79.5,1132.6 L79.5,1133.8 L79.5,1134.99 L79.5,1136.18 L79.5,1137.37 L79.5,1138.55 L79.5,1139.72 L79.5,1140.89 L79.5,1142.05 L79.5,1143.21 L79.5,1144.36 L79.5,1145.51 L79.5,1146.65 L79.5,1147.79 L79.5,1148.91 L79.5,1150.04 L79.5,1151.15 L79.5,1152.26 L79.5,1153.36 L79.5,1154.45 L79.5,1155.54 L79.5,1156.62 L79.5,1157.69 L79.5,1158.75 L79.5,1159.8 L79.5,1160.85 L79.5,1161.89 L79.5,1162.92 L79.5,1163.94 L79.5,1164.95 L79.5,1165.95 L79.5,1166.94 L79.5,1167.92 L79.5,1168.9 L79.5,1169.86 L79.5,1170.81 L79.5,1171.76 L79.5,1172.69 L79.5,1173.61 L79.5,1174.52 L79.5,1175.42 L79.5,1176.31 L79.5,1177.19 L79.5,1178.06 L79.5,1178.91 L79.5,1179.75 L79.5,1180.59 L79.5,1181.4 L79.5,1182.21 L79.5,1183.01 L79.5,1183.79 L79.5,1184.56 L79.5,1185.31 L79.5,1186.05 L79.5,1186.78 L79.5,1187.5 L79.5,1188.2 L79.5,1188.89 L79.5,1189.56 L79.5,1190.22 L79.5,1190.87 L79.5,1191.5 L79.5,1192.11 L79.5,1192.72 L79.5,1193.3 L79.5,1193.87 L79.5,1194.43 L79.5,1194.97 L79.5,1195.49 L79.5,1196" fill="none" stroke="#fff" stroke-width="3.3"/>
<g transform="translate(79.5,1025.5) rotate(90)" fill="#000"><rect x="-14.5" y="-3" width="3.6" height="6"/><rect x="10.9" y="-3" width="3.6" height="6"/></g>
<g transform="translate(79.5,1056.5) rotate(90)" fill="#000"><rect x="-14.5" y="-3" width="3.6" height="6"/><rect x="10.9" y="-3" width="3.6" height="6"/></g>
<g transform="translate(79.5,1087.5) rotate(90)" fill="#000"><rect x="-14.5" y="-3" width="3.6" height="6"/><rect x="10.9" y="-3" width="3.6" height="6"/></g>
<g transform="translate(79.5,1118.5) rotate(90)" fill="#000"><rect x="-14.5" y="-3" width="3.6" height="6"/><rect x="10.9" y="-3" width="3.6" height="6"/></g>
<g transform="translate(79.5,1149.5) rotate(90)" fill="#000"><rect x="-14.5" y="-3" width="3.6" height="6"/><rect x="10.9" y="-3" width="3.6" height="6"/></g>
<g transform="translate(79.5,1180.5) rotate(90)" fill="#000"><rect x="-14.5" y="-3" width="3.6" height="6"/><rect x="10.9" y="-3" width="3.6" height="6"/></g>
<g transform="translate(751.01,1021.2) rotate(90)"><rect x="-14.5" y="-8" width="29" height="16" rx="6.96" fill="#000" stroke="#000" stroke-width="2.6"/></g>
<g transform="translate(751,1020.5) rotate(90)"><rect x="-14.5" y="-8" width="29" height="16" rx="6.96" fill="#fff" stroke="#000" stroke-width="2.6"/></g>
<g transform="translate(751.01,1052.2) rotate(90)"><rect x="-14.5" y="-8" width="29" height="16" rx="6.96" fill="#000" stroke="#000" stroke-width="2.6"/></g>
<g transform="translate(751,1051.5) rotate(90)"><rect x="-14.5" y="-8" width="29" height="16" rx="6.96" fill="#fff" stroke="#000" stroke-width="2.6"/></g>
<g transform="translate(751.04,1083.2) rotate(90)"><rect x="-14.5" y="-8" width="29" height="16" rx="6.96" fill="#000" stroke="#000" stroke-width="2.6"/></g>
<g transform="translate(751,1082.5) rotate(90)"><rect x="-14.5" y="-8" width="29" height="16" rx="6.96" fill="#fff" stroke="#000" stroke-width="2.6"/></g>
<g transform="translate(751.05,1112.8) rotate(90)"><rect x="-14.5" y="-8" width="29" height="16" rx="6.96" fill="#000" stroke="#000" stroke-width="2.6"/></g>
<g transform="translate(751,1113.5) rotate(90)"><rect x="-14.5" y="-8" width="29" height="16" rx="6.96" fill="#fff" stroke="#000" stroke-width="2.6"/></g>
<g transform="translate(751.02,1143.8) rotate(90)"><rect x="-14.5" y="-8" width="29" height="16" rx="6.96" fill="#000" stroke="#000" stroke-width="2.6"/></g>
<g transform="translate(751,1144.5) rotate(90)"><rect x="-14.5" y="-8" width="29" height="16" rx="6.96" fill="#fff" stroke="#000" stroke-width="2.6"/></g>
<g transform="translate(751.01,1174.8) rotate(90)"><rect x="-14.5" y="-8" width="29" height="16" rx="6.96" fill="#000" stroke="#000" stroke-width="2.6"/></g>
<g transform="translate(751,1175.5) rotate(90)"><rect x="-14.5" y="-8" width="29" height="16" rx="6.96" fill="#fff" stroke="#000" stroke-width="2.6"/></g>
<path d="M751,1007 L751,1007.51 L751,1008.03 L751,1008.57 L751,1009.13 L751,1009.7 L751,1010.28 L751,1010.88 L751,1011.5 L751,1012.13 L751,1012.77 L751,1013.43 L751,1014.1 L751,1014.79 L751,1015.49 L751,1016.2 L751,1016.93 L751,1017.67 L751,1018.42 L751,1019.19 L751,1019.97 L751,1020.76 L751,1021.56 L751,1022.38 L751,1023.2 L751,1024.04 L751,1024.9 L751,1025.76 L751,1026.63 L751,1027.52 L751,1028.42 L751,1029.32 L751,1030.24 L751,1031.17 L751,1032.11 L751,1033.06 L751,1034.02 L751,1034.99 L751,1035.97 L751,1036.96 L751,1037.96 L751,1038.96 L751,1039.98 L751,1041 L751,1042.04 L751,1043.08 L751,1044.13 L751,1045.19 L751,1046.25 L751,1047.33 L751,1048.41 L751,1049.5 L751,1050.6 L751,1051.7 L751,1052.81 L751,1053.93 L751,1055.05 L751,1056.18 L751,1057.32 L751,1058.46 L751,1059.61 L751,1060.77 L751,1061.93 L751,1063.09 L751,1064.26 L751,1065.44 L751,1066.62 L751,1067.81 L751,1069 L751,1070.19 L751,1071.39 L751,1072.59 L751,1073.8 L751,1075.01 L751,1076.23 L751,1077.44 L751,1078.67 L751,1079.89 L751,1081.12 L751,1082.35 L751,1083.58 L751,1084.81 L751,1086.05 L751,1087.29 L751,1088.53 L751,1089.77 L751,1091.01 L751,1092.26 L751,1093.51 L751,1094.75 L751,1096 L751,1097.25 L751,1098.5 L751,1099.75 L751,1101 L751,1102.25 L751,1103.5 L751,1104.75 L751,1106 L751,1107.25 L751,1108.49 L751,1109.74 L751,1110.99 L751,1112.23 L751,1113.47 L751,1114.71 L751,1115.95 L751,1117.19 L751,1118.42 L751,1119.65 L751,1120.88 L751,1122.11 L751,1123.33 L751,1124.56 L751,1125.77 L751,1126.99 L751,1128.2 L751,1129.41 L751,1130.61 L751,1131.81 L751,1133 L751,1134.19 L751,1135.38 L751,1136.56 L751,1137.74 L751,1138.91 L751,1140.07 L751,1141.23 L751,1142.39 L751,1143.54 L751,1144.68 L751,1145.82 L751,1146.95 L751,1148.07 L751,1149.19 L751,1150.3 L751,1151.4 L751,1152.5 L751,1153.59 L751,1154.67 L751,1155.75 L751,1156.81 L751,1157.87 L751,1158.92 L751,1159.96 L751,1161 L751,1162.02 L751,1163.04 L751,1164.04 L751,1165.04 L751,1166.03 L751,1167.01 L751,1167.98 L751,1168.94 L751,1169.89 L751,1170.83 L751,1171.76 L751,1172.68 L751,1173.58 L751,1174.48 L751,1175.37 L751,1176.24 L751,1177.1 L751,1177.96 L751,1178.8 L751,1179.62 L751,1180.44 L751,1181.24 L751,1182.03 L751,1182.81 L751,1183.58 L751,1184.33 L751,1185.07 L751,1185.8 L751,1186.51 L751,1187.21 L751,1187.9 L751,1188.57 L751,1189.23 L751,1189.87 L751,1190.5 L751,1191.12 L751,1191.72 L751,1192.3 L751,1192.87 L751,1193.43 L751,1193.97 L751,1194.49 L751,1195" fill="none" stroke="#000" stroke-width="6"/>
<path d="M751,1007 L751,1007.51 L751,1008.03 L751,1008.57 L751,1009.13 L751,1009.7 L751,1010.28 L751,1010.88 L751,1011.5 L751,1012.13 L751,1012.77 L751,1013.43 L751,1014.1 L751,1014.79 L751,1015.49 L751,1016.2 L751,1016.93 L751,1017.67 L751,1018.42 L751,1019.19 L751,1019.97 L751,1020.76 L751,1021.56 L751,1022.38 L751,1023.2 L751,1024.04 L751,1024.9 L751,1025.76 L751,1026.63 L751,1027.52 L751,1028.42 L751,1029.32 L751,1030.24 L751,1031.17 L751,1032.11 L751,1033.06 L751,1034.02 L751,1034.99 L751,1035.97 L751,1036.96 L751,1037.96 L751,1038.96 L751,1039.98 L751,1041 L751,1042.04 L751,1043.08 L751,1044.13 L751,1045.19 L751,1046.25 L751,1047.33 L751,1048.41 L751,1049.5 L751,1050.6 L751,1051.7 L751,1052.81 L751,1053.93 L751,1055.05 L751,1056.18 L751,1057.32 L751,1058.46 L751,1059.61 L751,1060.77 L751,1061.93 L751,1063.09 L751,1064.26 L751,1065.44 L751,1066.62 L751,1067.81 L751,1069 L751,1070.19 L751,1071.39 L751,1072.59 L751,1073.8 L751,1075.01 L751,1076.23 L751,1077.44 L751,1078.67 L751,1079.89 L751,1081.12 L751,1082.35 L751,1083.58 L751,1084.81 L751,1086.05 L751,1087.29 L751,1088.53 L751,1089.77 L751,1091.01 L751,1092.26 L751,1093.51 L751,1094.75 L751,1096 L751,1097.25 L751,1098.5 L751,1099.75 L751,1101 L751,1102.25 L751,1103.5 L751,1104.75 L751,1106 L751,1107.25 L751,1108.49 L751,1109.74 L751,1110.99 L751,1112.23 L751,1113.47 L751,1114.71 L751,1115.95 L751,1117.19 L751,1118.42 L751,1119.65 L751,1120.88 L751,1122.11 L751,1123.33 L751,1124.56 L751,1125.77 L751,1126.99 L751,1128.2 L751,1129.41 L751,1130.61 L751,1131.81 L751,1133 L751,1134.19 L751,1135.38 L751,1136.56 L751,1137.74 L751,1138.91 L751,1140.07 L751,1141.23 L751,1142.39 L751,1143.54 L751,1144.68 L751,1145.82 L751,1146.95 L751,1148.07 L751,1149.19 L751,1150.3 L751,1151.4 L751,1152.5 L751,1153.59 L751,1154.67 L751,1155.75 L751,1156.81 L751,1157.87 L751,1158.92 L751,1159.96 L751,1161 L751,1162.02 L751,1163.04 L751,1164.04 L751,1165.04 L751,1166.03 L751,1167.01 L751,1167.98 L751,1168.94 L751,1169.89 L751,1170.83 L751,1171.76 L751,1172.68 L751,1173.58 L751,1174.48 L751,1175.37 L751,1176.24 L751,1177.1 L751,1177.96 L751,1178.8 L751,1179.62 L751,1180.44 L751,1181.24 L751,1182.03 L751,1182.81 L751,1183.58 L751,1184.33 L751,1185.07 L751,1185.8 L751,1186.51 L751,1187.21 L751,1187.9 L751,1188.57 L751,1189.23 L751,1189.87 L751,1190.5 L751,1191.12 L751,1191.72 L751,1192.3 L751,1192.87 L751,1193.43 L751,1193.97 L751,1194.49 L751,1195" fill="none" stroke="#fff" stroke-width="3.3"/>
<g transform="translate(751,1020.5) rotate(90)" fill="#000"><rect x="-14.5" y="-3" width="3.6" height="6"/><rect x="10.9" y="-3" width="3.6" height="6"/></g>
<g transform="translate(751,1051.5) rotate(90)" fill="#000"><rect x="-14.5" y="-3" width="3.6" height="6"/><rect x="10.9" y="-3" width="3.6" height="6"/></g>
<g transform="translate(751,1082.5) rotate(90)" fill="#000"><rect x="-14.5" y="-3" width="3.6" height="6"/><rect x="10.9" y="-3" width="3.6" height="6"/></g>
<g transform="translate(751,1113.5) rotate(90)" fill="#000"><rect x="-14.5" y="-3" width="3.6" height="6"/><rect x="10.9" y="-3" width="3.6" height="6"/></g>
<g transform="translate(751,1144.5) rotate(90)" fill="#000"><rect x="-14.5" y="-3" width="3.6" height="6"/><rect x="10.9" y="-3" width="3.6" height="6"/></g>
<g transform="translate(751,1175.5) rotate(90)" fill="#000"><rect x="-14.5" y="-3" width="3.6" height="6"/><rect x="10.9" y="-3" width="3.6" height="6"/></g>
<rect x="72" y="1009" width="16" height="24" rx="6" fill="#000"/><rect x="78.2" y="1022" width="3" height="10" fill="#fff"/>
<path d="M65,1133 C71,1135 71,1145 71,1182 M95,1133 C89,1135 89,1145 89,1182" fill="none" stroke="#000" stroke-width="2.5"/>
<path d="M735,1133 C741,1135 741,1145 741,1182 M765,1133 C759,1135 759,1145 759,1182" fill="none" stroke="#000" stroke-width="2.5"/>
<line x1="24.5" y1="1161.6" x2="70" y2="1161.8" stroke="#000" stroke-width="3.8" stroke-linecap="round"/>
<line x1="90" y1="1161.5" x2="740" y2="1160" stroke="#000" stroke-width="3.6"/>
<line x1="760" y1="1159.9" x2="804.4" y2="1159.6" stroke="#000" stroke-width="3.6" stroke-linecap="round"/>
<text font-family="Liberation Sans, sans-serif" font-size="14.8" font-weight="normal" stroke="#000" stroke-width="0.7" x="87" y="848.8" textLength="36.3" lengthAdjust="spacing">ROD</text>
<text font-family="Liberation Sans, sans-serif" font-size="13" font-weight="normal" stroke="#000" stroke-width="0.8" x="712.4" y="863.9" textLength="29.6" lengthAdjust="spacing">ROD</text>
<text font-family="Liberation Sans, sans-serif" font-size="15" font-weight="normal" stroke="#000" stroke-width="0.5" x="90.9" y="1072" textLength="53.4" lengthAdjust="spacing">CHAIN</text>
<text font-family="Liberation Sans, sans-serif" font-size="15" font-weight="normal" stroke="#000" stroke-width="0.5" x="688" y="1080.3" textLength="53" lengthAdjust="spacing">CHAIN</text>
<text font-family="Liberation Sans, sans-serif" font-size="16.3" font-weight="normal" stroke="#000" stroke-width="0.8" x="99.3" y="1154.7" textLength="68.2" lengthAdjust="spacing">SHEAVE</text>
<text font-family="Liberation Sans, sans-serif" font-size="13" font-weight="bold" stroke="#000" stroke-width="0.9" x="648.4" y="1152.6" textLength="69" lengthAdjust="spacing">SHEAVE</text>
<text font-family="Liberation Sans, sans-serif" font-size="21" stroke="#000" stroke-width="0.9" x="259.5" y="1148" textLength="60.5" lengthAdjust="spacing">FORE</text>
<text font-family="Liberation Sans, sans-serif" font-size="21" stroke="#000" stroke-width="0.9" x="343.8" y="1148" textLength="60.6" lengthAdjust="spacing">EDGE</text>
<text font-family="Liberation Sans, sans-serif" font-size="21" stroke="#000" stroke-width="0.9" x="426" y="1148" textLength="30.4" lengthAdjust="spacing">OF</text>
<text font-family="Liberation Sans, sans-serif" font-size="21" stroke="#000" stroke-width="0.9" x="473.7" y="1148" textLength="67.9" lengthAdjust="spacing">POOP</text>
<text font-family="Liberation Sans, sans-serif" font-size="23.5" font-weight="normal" stroke="#000" stroke-width="0.9" transform="translate(42.3,1001.8) rotate(-90)" textLength="194.8" lengthAdjust="spacing">STARBOARD</text>
<text font-family="Liberation Sans, sans-serif" font-size="18" font-weight="normal" stroke="#000" stroke-width="0.5" transform="translate(44.5,584) rotate(-90)" textLength="79" lengthAdjust="spacing">SPRING</text>
<text font-family="Liberation Sans, sans-serif" font-size="16.5" font-weight="normal" stroke="#000" stroke-width="0.5" transform="translate(60,582.5) rotate(-90)" textLength="75" lengthAdjust="spacing">BUFFER</text>
<text font-family="Liberation Sans, sans-serif" font-size="25" font-weight="normal" stroke="#000" stroke-width="0.9" transform="translate(785.4,810.8) rotate(90)" textLength="82.5" lengthAdjust="spacing">PORT</text>
<text font-family="Liberation Sans, sans-serif" font-size="18" font-weight="normal" stroke="#000" stroke-width="0.5" transform="translate(782.2,483) rotate(90)" textLength="91" lengthAdjust="spacing">SPRING</text>
<text font-family="Liberation Sans, sans-serif" font-size="17" font-weight="normal" stroke="#000" stroke-width="0.5" transform="translate(764,486.5) rotate(90)" textLength="88.5" lengthAdjust="spacing">BUFFER</text>
<text font-family="Liberation Sans, sans-serif" font-size="16.6" stroke="#000" stroke-width="0.3" x="179" y="550.4" textLength="132.6" lengthAdjust="spacing">ABC—Quadrant</text>
<text font-family="Liberation Sans, sans-serif" font-size="16.6" stroke="#000" stroke-width="0.3" x="321.66" y="550.4" textLength="65.96" lengthAdjust="spacing">secured</text>
<text font-family="Liberation Sans, sans-serif" font-size="16.6" stroke="#000" stroke-width="0.3" x="397.67" y="550.4" textLength="14.99" lengthAdjust="spacing">to</text>
<text font-family="Liberation Sans, sans-serif" font-size="16.6" stroke="#000" stroke-width="0.3" x="422.73" y="550.4" textLength="53.74" lengthAdjust="spacing">rudder</text>
<text font-family="Liberation Sans, sans-serif" font-size="16.6" stroke="#000" stroke-width="0.3" x="486.52" y="550.4" textLength="40.38" lengthAdjust="spacing">head</text>
<text font-family="Liberation Sans, sans-serif" font-size="16.6" stroke="#000" stroke-width="0.3" x="536.96" y="550.4" textLength="14.99" lengthAdjust="spacing">at</text>
<text font-family="Liberation Sans, sans-serif" font-size="16.6" stroke="#000" stroke-width="0.3" x="562.01" y="550.4">C</text>
<text font-family="Liberation Sans, sans-serif" font-size="16.6" stroke="#000" stroke-width="0.3" x="203" y="586.4" textLength="89.45" lengthAdjust="spacing">D—Rollers</text>
<text font-family="Liberation Sans, sans-serif" font-size="16.6" stroke="#000" stroke-width="0.3" x="206" y="627.4" textLength="94.09" lengthAdjust="spacing">E—Locking</text>
<text font-family="Liberation Sans, sans-serif" font-size="16.6" stroke="#000" stroke-width="0.3" x="316.97" y="627.4" textLength="70.79" lengthAdjust="spacing">brackets</text>
<text font-family="Liberation Sans, sans-serif" font-size="16.6" stroke="#000" stroke-width="0.3" x="404.63" y="627.4" textLength="19.61" lengthAdjust="spacing">on</text>
<text font-family="Liberation Sans, sans-serif" font-size="16.6" stroke="#000" stroke-width="0.3" x="441.12" y="627.4" textLength="38.51" lengthAdjust="spacing">deck</text>
<text font-family="Liberation Sans, sans-serif" font-size="16.6" stroke="#000" stroke-width="0.3" x="496.51" y="627.4" textLength="47.04" lengthAdjust="spacing">which</text>
<text font-family="Liberation Sans, sans-serif" font-size="16.6" stroke="#000" stroke-width="0.3" x="560.43" y="627.4" textLength="62.27" lengthAdjust="spacing">prevent</text>
<text font-family="Liberation Sans, sans-serif" font-size="16.6" stroke="#000" stroke-width="0.3" x="233" y="652.4" textLength="73.58" lengthAdjust="spacing">quadrant</text>
<text font-family="Liberation Sans, sans-serif" font-size="16.6" stroke="#000" stroke-width="0.3" x="320.68" y="652.4" textLength="59.26" lengthAdjust="spacing">moving</text>
<text font-family="Liberation Sans, sans-serif" font-size="16.6" stroke="#000" stroke-width="0.3" x="394.04" y="652.4" textLength="63.2" lengthAdjust="spacing">through</text>
<text font-family="Liberation Sans, sans-serif" font-size="16.6" stroke="#000" stroke-width="0.3" x="471.34" y="652.4" textLength="41.27" lengthAdjust="spacing">more</text>
<text font-family="Liberation Sans, sans-serif" font-size="16.6" stroke="#000" stroke-width="0.3" x="526.7" y="652.4" textLength="35.76" lengthAdjust="spacing">than</text>
<text font-family="Liberation Sans, sans-serif" font-size="16.6" stroke="#000" stroke-width="0.3" x="576.56" y="652.4" textLength="46.14" lengthAdjust="spacing">about</text>
<text font-family="Liberation Sans, sans-serif" font-size="16.6" stroke="#000" stroke-width="0.3" x="233.4" y="678.5" textLength="27.4" lengthAdjust="spacing">45°</text>
<text font-family="Liberation Sans, sans-serif" font-size="16.6" stroke="#000" stroke-width="0.3" x="274.06" y="678.5" textLength="47.28" lengthAdjust="spacing">either</text>
<text font-family="Liberation Sans, sans-serif" font-size="16.6" stroke="#000" stroke-width="0.3" x="334.6" y="678.5" textLength="33.9" lengthAdjust="spacing">side</text>
<text font-family="Liberation Sans, sans-serif" font-size="16.6" stroke="#000" stroke-width="0.3" x="209.6" y="719.8" textLength="101.67" lengthAdjust="spacing">F—Brackets</text>
<text font-family="Liberation Sans, sans-serif" font-size="16.6" stroke="#000" stroke-width="0.3" x="319.99" y="719.8" textLength="14.99" lengthAdjust="spacing">to</text>
<text font-family="Liberation Sans, sans-serif" font-size="16.6" stroke="#000" stroke-width="0.3" x="343.7" y="719.8" textLength="34.83" lengthAdjust="spacing">take</text>
<text font-family="Liberation Sans, sans-serif" font-size="16.6" stroke="#000" stroke-width="0.3" x="387.25" y="719.8" textLength="52.8" lengthAdjust="spacing">blocks</text>
<text font-family="Liberation Sans, sans-serif" font-size="16.6" stroke="#000" stroke-width="0.3" x="448.78" y="719.8" textLength="14.99" lengthAdjust="spacing">of</text>
<text font-family="Liberation Sans, sans-serif" font-size="16.6" stroke="#000" stroke-width="0.3" x="472.49" y="719.8" textLength="71.02" lengthAdjust="spacing">relieving</text>
<text font-family="Liberation Sans, sans-serif" font-size="16.6" stroke="#000" stroke-width="0.3" x="552.24" y="719.8" textLength="58.56" lengthAdjust="spacing">tackles</text>
<text font-family="Liberation Sans, sans-serif" font-size="16.6" stroke="#000" stroke-width="0.3" x="205.4" y="760.7" textLength="98.69" lengthAdjust="spacing">G—Mooring</text>
<text font-family="Liberation Sans, sans-serif" font-size="16.6" stroke="#000" stroke-width="0.3" x="315.68" y="760.7" textLength="35.04" lengthAdjust="spacing">bitts</text>
<text font-family="Liberation Sans, sans-serif" font-size="16.6" stroke="#000" stroke-width="0.3" x="362.31" y="760.7" textLength="15.91" lengthAdjust="spacing">or</text>
<text font-family="Liberation Sans, sans-serif" font-size="16.6" stroke="#000" stroke-width="0.3" x="389.81" y="760.7" textLength="66.19" lengthAdjust="spacing">bollards</text>
<text font-family="Liberation Sans, sans-serif" font-size="16.6" stroke="#000" stroke-width="0.3" x="205.8" y="799.2" textLength="108.37" lengthAdjust="spacing">H—Relieving</text>
<text font-family="Liberation Sans, sans-serif" font-size="16.6" stroke="#000" stroke-width="0.3" x="321.9" y="799.2" textLength="58.56" lengthAdjust="spacing">tackles</text>
<text font-family="Liberation Sans, sans-serif" font-size="16.6" stroke="#000" stroke-width="0.3" x="388.2" y="799.2" textLength="14.99" lengthAdjust="spacing">of</text>
<text font-family="Liberation Sans, sans-serif" font-size="16.6" stroke="#000" stroke-width="0.3" x="410.92" y="799.2" textLength="31.25" lengthAdjust="spacing">2½″</text>
<text font-family="Liberation Sans, sans-serif" font-size="16.6" stroke="#000" stroke-width="0.3" x="449.91" y="799.2" textLength="39.65" lengthAdjust="spacing">wire.</text>
<text font-family="Liberation Sans, sans-serif" font-size="16.6" stroke="#000" stroke-width="0.3" x="516.61" y="799.2" textLength="42.2" lengthAdjust="spacing">Rove</text>
<text font-family="Liberation Sans, sans-serif" font-size="16.6" stroke="#000" stroke-width="0.3" x="566.55" y="799.2" textLength="31.34" lengthAdjust="spacing">first</text>
<text font-family="Liberation Sans, sans-serif" font-size="16.6" stroke="#000" stroke-width="0.3" x="605.62" y="799.2" textLength="18.68" lengthAdjust="spacing">as</text>
<text font-family="Liberation Sans, sans-serif" font-size="16.6" stroke="#000" stroke-width="0.3" x="234.6" y="826.2">a</text>
<text font-family="Liberation Sans, sans-serif" font-size="16.6" stroke="#000" stroke-width="0.3" x="251.89" y="826.2" textLength="80.48" lengthAdjust="spacing">three-fold</text>
<text font-family="Liberation Sans, sans-serif" font-size="16.6" stroke="#000" stroke-width="0.3" x="340.43" y="826.2" textLength="49.11" lengthAdjust="spacing">tackle</text>
<text font-family="Liberation Sans, sans-serif" font-size="16.6" stroke="#000" stroke-width="0.3" x="397.61" y="826.2" textLength="19.61" lengthAdjust="spacing">on</text>
<text font-family="Liberation Sans, sans-serif" font-size="16.6" stroke="#000" stroke-width="0.3" x="425.28" y="826.2" textLength="79.33" lengthAdjust="spacing">starboard</text>
<text font-family="Liberation Sans, sans-serif" font-size="16.6" stroke="#000" stroke-width="0.3" x="512.67" y="826.2" textLength="33.9" lengthAdjust="spacing">side</text>
<text font-family="Liberation Sans, sans-serif" font-size="16.6" stroke="#000" stroke-width="0.3" x="554.64" y="826.2" textLength="69.66" lengthAdjust="spacing">between</text>
<text font-family="Liberation Sans, sans-serif" font-size="16.6" stroke="#000" stroke-width="0.3" x="234.6" y="852.1">a</text>
<text font-family="Liberation Sans, sans-serif" font-size="16.6" stroke="#000" stroke-width="0.3" x="255.4" y="852.1" textLength="43.35" lengthAdjust="spacing">block</text>
<text font-family="Liberation Sans, sans-serif" font-size="16.6" stroke="#000" stroke-width="0.3" x="310.32" y="852.1" textLength="19.61" lengthAdjust="spacing">on</text>
<text font-family="Liberation Sans, sans-serif" font-size="16.6" stroke="#000" stroke-width="0.3" x="341.5" y="852.1" textLength="61.34" lengthAdjust="spacing">bracket</text>
<text font-family="Liberation Sans, sans-serif" font-size="16.6" stroke="#000" stroke-width="0.3" x="414.41" y="852.1" textLength="14.99" lengthAdjust="spacing">at</text>
<text font-family="Liberation Sans, sans-serif" font-size="16.6" stroke="#000" stroke-width="0.3" x="440.97" y="852.1" textLength="14.06" lengthAdjust="spacing">F,</text>
<text font-family="Liberation Sans, sans-serif" font-size="16.6" stroke="#000" stroke-width="0.3" x="466.6" y="852.1" textLength="30" lengthAdjust="spacing">and</text>
<text font-family="Liberation Sans, sans-serif" font-size="16.6" stroke="#000" stroke-width="0.3" x="508.16" y="852.1">a</text>
<text font-family="Liberation Sans, sans-serif" font-size="16.6" stroke="#000" stroke-width="0.3" x="528.96" y="852.1" textLength="43.35" lengthAdjust="spacing">block</text>
<text font-family="Liberation Sans, sans-serif" font-size="16.6" stroke="#000" stroke-width="0.3" x="583.89" y="852.1" textLength="19.61" lengthAdjust="spacing">on</text>
<text font-family="Liberation Sans, sans-serif" font-size="16.6" stroke="#000" stroke-width="0.3" x="615.07" y="852.1">a</text>
<text font-family="Liberation Sans, sans-serif" font-size="16.6" stroke="#000" stroke-width="0.3" x="235.6" y="878" textLength="28.36" lengthAdjust="spacing">link</text>
<text font-family="Liberation Sans, sans-serif" font-size="16.6" stroke="#000" stroke-width="0.3" x="278.5" y="878" textLength="14.99" lengthAdjust="spacing">at</text>
<text font-family="Liberation Sans, sans-serif" font-size="16.6" stroke="#000" stroke-width="0.3" x="308.04" y="878" textLength="51.89" lengthAdjust="spacing">centre</text>
<text font-family="Liberation Sans, sans-serif" font-size="16.6" stroke="#000" stroke-width="0.3" x="374.47" y="878" textLength="14.99" lengthAdjust="spacing">of</text>
<text font-family="Liberation Sans, sans-serif" font-size="16.6" stroke="#000" stroke-width="0.3" x="404.01" y="878" textLength="79.35" lengthAdjust="spacing">quadrant,</text>
<text font-family="Liberation Sans, sans-serif" font-size="16.6" stroke="#000" stroke-width="0.3" x="497.9" y="878" textLength="52.59" lengthAdjust="spacing">shown</text>
<text font-family="Liberation Sans, sans-serif" font-size="16.6" stroke="#000" stroke-width="0.3" x="565.04" y="878" textLength="57.66" lengthAdjust="spacing">dotted.</text>
<text font-family="Liberation Sans, sans-serif" font-size="16.6" stroke="#000" stroke-width="0.3" x="235.6" y="904.6" textLength="31.84" lengthAdjust="spacing">End</text>
<text font-family="Liberation Sans, sans-serif" font-size="16.6" stroke="#000" stroke-width="0.3" x="279.96" y="904.6" textLength="13.14" lengthAdjust="spacing">is</text>
<text font-family="Liberation Sans, sans-serif" font-size="16.6" stroke="#000" stroke-width="0.3" x="305.63" y="904.6" textLength="35.76" lengthAdjust="spacing">then</text>
<text font-family="Liberation Sans, sans-serif" font-size="16.6" stroke="#000" stroke-width="0.3" x="353.91" y="904.6" textLength="45.21" lengthAdjust="spacing">taken</text>
<text font-family="Liberation Sans, sans-serif" font-size="16.6" stroke="#000" stroke-width="0.3" x="411.65" y="904.6" textLength="35.74" lengthAdjust="spacing">over</text>
<text font-family="Liberation Sans, sans-serif" font-size="16.6" stroke="#000" stroke-width="0.3" x="459.92" y="904.6" textLength="73.58" lengthAdjust="spacing">quadrant</text>
<text font-family="Liberation Sans, sans-serif" font-size="16.6" stroke="#000" stroke-width="0.3" x="546.03" y="904.6" textLength="30" lengthAdjust="spacing">and</text>
<text font-family="Liberation Sans, sans-serif" font-size="16.6" stroke="#000" stroke-width="0.3" x="588.56" y="904.6" textLength="35.74" lengthAdjust="spacing">rove</text>
<text font-family="Liberation Sans, sans-serif" font-size="16.6" stroke="#000" stroke-width="0.3" x="234.6" y="931.9" textLength="18.68" lengthAdjust="spacing">as</text>
<text font-family="Liberation Sans, sans-serif" font-size="16.6" stroke="#000" stroke-width="0.3" x="268.35" y="931.9">a</text>
<text font-family="Liberation Sans, sans-serif" font-size="16.6" stroke="#000" stroke-width="0.3" x="292.66" y="931.9" textLength="80.48" lengthAdjust="spacing">three-fold</text>
<text font-family="Liberation Sans, sans-serif" font-size="16.6" stroke="#000" stroke-width="0.3" x="388.21" y="931.9" textLength="76.34" lengthAdjust="spacing">purchase</text>
<text font-family="Liberation Sans, sans-serif" font-size="16.6" stroke="#000" stroke-width="0.3" x="479.62" y="931.9" textLength="19.61" lengthAdjust="spacing">on</text>
<text font-family="Liberation Sans, sans-serif" font-size="16.6" stroke="#000" stroke-width="0.3" x="514.31" y="931.9" textLength="32.06" lengthAdjust="spacing">port</text>
<text font-family="Liberation Sans, sans-serif" font-size="16.6" stroke="#000" stroke-width="0.3" x="561.43" y="931.9" textLength="33.9" lengthAdjust="spacing">side</text>
<text font-family="Liberation Sans, sans-serif" font-size="16.6" stroke="#000" stroke-width="0.3" x="610.41" y="931.9" textLength="14.99" lengthAdjust="spacing">of</text>
<text font-family="Liberation Sans, sans-serif" font-size="16.6" stroke="#000" stroke-width="0.3" x="234.6" y="956.9" textLength="39.66" lengthAdjust="spacing">ship,</text>
<text font-family="Liberation Sans, sans-serif" font-size="16.6" stroke="#000" stroke-width="0.3" x="287.35" y="956.9" textLength="45.22" lengthAdjust="spacing">being</text>
<text font-family="Liberation Sans, sans-serif" font-size="16.6" stroke="#000" stroke-width="0.3" x="345.65" y="956.9" textLength="49.34" lengthAdjust="spacing">finally</text>
<text font-family="Liberation Sans, sans-serif" font-size="16.6" stroke="#000" stroke-width="0.3" x="408.07" y="956.9" textLength="45.21" lengthAdjust="spacing">taken</text>
<text font-family="Liberation Sans, sans-serif" font-size="16.6" stroke="#000" stroke-width="0.3" x="466.36" y="956.9" textLength="63.2" lengthAdjust="spacing">through</text>
<text font-family="Liberation Sans, sans-serif" font-size="16.6" stroke="#000" stroke-width="0.3" x="542.65" y="956.9">a</text>
<text font-family="Liberation Sans, sans-serif" font-size="16.6" stroke="#000" stroke-width="0.3" x="564.96" y="956.9" textLength="60.44" lengthAdjust="spacing">leading</text>
<text font-family="Liberation Sans, sans-serif" font-size="16.6" stroke="#000" stroke-width="0.3" x="236" y="983.8" textLength="43.35" lengthAdjust="spacing">block</text>
<text font-family="Liberation Sans, sans-serif" font-size="16.6" stroke="#000" stroke-width="0.3" x="289.73" y="983.8">J</text>
<text font-family="Liberation Sans, sans-serif" font-size="16.6" stroke="#000" stroke-width="0.3" x="308.4" y="983.8" textLength="30" lengthAdjust="spacing">and</text>
<text font-family="Liberation Sans, sans-serif" font-size="16.6" stroke="#000" stroke-width="0.3" x="348.77" y="983.8" textLength="52.82" lengthAdjust="spacing">turned</text>
<text font-family="Liberation Sans, sans-serif" font-size="16.6" stroke="#000" stroke-width="0.3" x="411.96" y="983.8" textLength="19.61" lengthAdjust="spacing">up</text>
<text font-family="Liberation Sans, sans-serif" font-size="16.6" stroke="#000" stroke-width="0.3" x="441.95" y="983.8" textLength="47.06" lengthAdjust="spacing">round</text>
<text font-family="Liberation Sans, sans-serif" font-size="16.6" stroke="#000" stroke-width="0.3" x="499.38" y="983.8" textLength="56.74" lengthAdjust="spacing">bollard</text>
<text font-family="Liberation Sans, sans-serif" font-size="16.6" stroke="#000" stroke-width="0.3" x="566.49" y="983.8">G</text></svg></body></html>
